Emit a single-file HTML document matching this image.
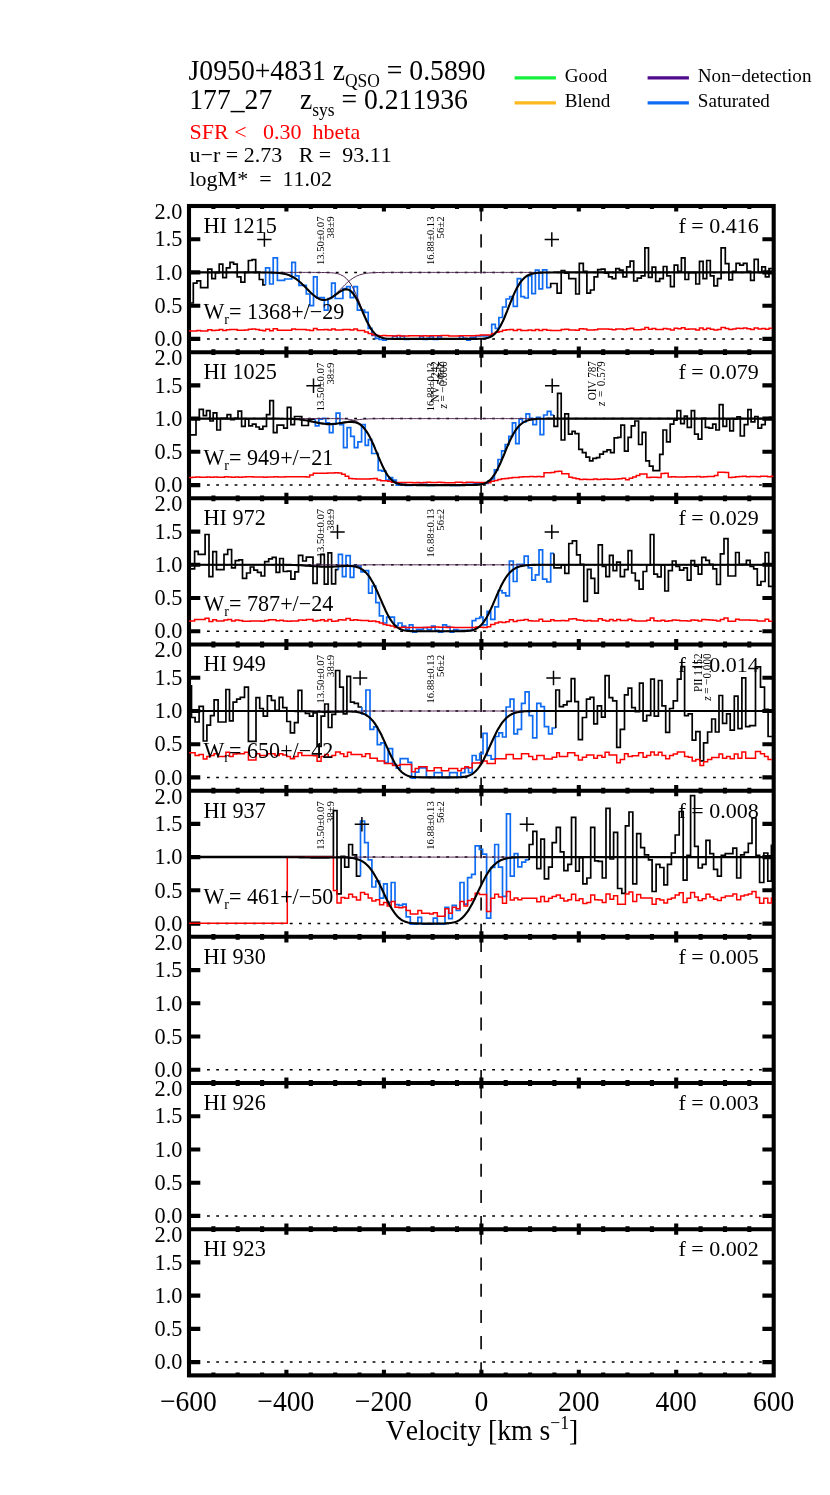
<!DOCTYPE html>
<html><head><meta charset="utf-8"><title>J0950+4831 HI</title>
<style>html,body{margin:0;padding:0;background:#fff}body{width:830px;height:1495px;overflow:hidden;font-family:"Liberation Serif",serif}svg{display:block;will-change:transform}</style>
</head><body>
<svg width="830" height="1495" viewBox="0 0 830 1495">
<rect width="830" height="1495" fill="#fff"/>
<defs><clipPath id="cp"><rect x="189" y="206" width="584.7" height="1169.4"/></clipPath></defs>
<path d="M207 338.9H773.7" stroke="#000" stroke-width="1.5" stroke-dasharray="2.8 6.4" fill="none"/>
<path d="M207 272.4H773.7" stroke="#000" stroke-width="1.5" stroke-dasharray="2.8 6.4" fill="none"/>
<path d="M481.1 352.2V206" stroke="#000" stroke-width="1.6" stroke-dasharray="13.1 13.1" fill="none"/>
<path d="M207 485.1H773.7" stroke="#000" stroke-width="1.5" stroke-dasharray="2.8 6.4" fill="none"/>
<path d="M207 418.6H773.7" stroke="#000" stroke-width="1.5" stroke-dasharray="2.8 6.4" fill="none"/>
<path d="M481.1 498.3V352.2" stroke="#000" stroke-width="1.6" stroke-dasharray="13.1 13.1" fill="none"/>
<path d="M207 631.2H773.7" stroke="#000" stroke-width="1.5" stroke-dasharray="2.8 6.4" fill="none"/>
<path d="M207 564.8H773.7" stroke="#000" stroke-width="1.5" stroke-dasharray="2.8 6.4" fill="none"/>
<path d="M481.1 644.5V498.3" stroke="#000" stroke-width="1.6" stroke-dasharray="13.1 13.1" fill="none"/>
<path d="M207 777.4H773.7" stroke="#000" stroke-width="1.5" stroke-dasharray="2.8 6.4" fill="none"/>
<path d="M207 711H773.7" stroke="#000" stroke-width="1.5" stroke-dasharray="2.8 6.4" fill="none"/>
<path d="M481.1 790.7V644.5" stroke="#000" stroke-width="1.6" stroke-dasharray="13.1 13.1" fill="none"/>
<path d="M207 923.6H773.7" stroke="#000" stroke-width="1.5" stroke-dasharray="2.8 6.4" fill="none"/>
<path d="M207 857.1H773.7" stroke="#000" stroke-width="1.5" stroke-dasharray="2.8 6.4" fill="none"/>
<path d="M481.1 936.8V790.7" stroke="#000" stroke-width="1.6" stroke-dasharray="13.1 13.1" fill="none"/>
<path d="M207 1069.7H773.7" stroke="#000" stroke-width="1.5" stroke-dasharray="2.8 6.4" fill="none"/>
<path d="M481.1 1083V936.8" stroke="#000" stroke-width="1.6" stroke-dasharray="13.1 13.1" fill="none"/>
<path d="M207 1215.9H773.7" stroke="#000" stroke-width="1.5" stroke-dasharray="2.8 6.4" fill="none"/>
<path d="M481.1 1229.2V1083" stroke="#000" stroke-width="1.6" stroke-dasharray="13.1 13.1" fill="none"/>
<path d="M207 1362.1H773.7" stroke="#000" stroke-width="1.5" stroke-dasharray="2.8 6.4" fill="none"/>
<path d="M481.1 1375.4V1229.2" stroke="#000" stroke-width="1.6" stroke-dasharray="13.1 13.1" fill="none"/>
<g stroke="#000" stroke-width="4.1" fill="none">
<rect x="189" y="206" width="584.7" height="1169.4"/>
<path d="M189 352.2H773.7"/>
<path d="M189 498.3H773.7"/>
<path d="M189 644.5H773.7"/>
<path d="M189 790.7H773.7"/>
<path d="M189 936.8H773.7"/>
<path d="M189 1083H773.7"/>
<path d="M189 1229.2H773.7"/>
<path d="M189 338.9h11.3M773.7 338.9h-11.3M189 305.7h11.3M773.7 305.7h-11.3M189 272.4h11.3M773.7 272.4h-11.3M189 239.2h11.3M773.7 239.2h-11.3M189 485.1h11.3M773.7 485.1h-11.3M189 451.8h11.3M773.7 451.8h-11.3M189 418.6h11.3M773.7 418.6h-11.3M189 385.4h11.3M773.7 385.4h-11.3M189 631.2h11.3M773.7 631.2h-11.3M189 598h11.3M773.7 598h-11.3M189 564.8h11.3M773.7 564.8h-11.3M189 531.6h11.3M773.7 531.6h-11.3M189 777.4h11.3M773.7 777.4h-11.3M189 744.2h11.3M773.7 744.2h-11.3M189 711h11.3M773.7 711h-11.3M189 677.7h11.3M773.7 677.7h-11.3M189 923.6h11.3M773.7 923.6h-11.3M189 890.3h11.3M773.7 890.3h-11.3M189 857.1h11.3M773.7 857.1h-11.3M189 823.9h11.3M773.7 823.9h-11.3M189 1069.7h11.3M773.7 1069.7h-11.3M189 1036.5h11.3M773.7 1036.5h-11.3M189 1003.3h11.3M773.7 1003.3h-11.3M189 970.1h11.3M773.7 970.1h-11.3M189 1215.9h11.3M773.7 1215.9h-11.3M189 1182.7h11.3M773.7 1182.7h-11.3M189 1149.5h11.3M773.7 1149.5h-11.3M189 1116.2h11.3M773.7 1116.2h-11.3M189 1362.1h11.3M773.7 1362.1h-11.3M189 1328.9h11.3M773.7 1328.9h-11.3M189 1295.6h11.3M773.7 1295.6h-11.3M189 1262.4h11.3M773.7 1262.4h-11.3"/>
<path d="M213.4 206V208.9M237.7 206V208.9M262.1 206V208.9M286.4 206V211.6M310.8 206V208.9M335.2 206V208.9M359.5 206V208.9M383.9 206V211.6M408.3 206V208.9M432.6 206V208.9M457 206V208.9M481.4 206V211.6M505.7 206V208.9M530.1 206V208.9M554.4 206V208.9M578.8 206V211.6M603.2 206V208.9M627.5 206V208.9M651.9 206V208.9M676.2 206V211.6M700.6 206V208.9M725 206V208.9M749.3 206V208.9M213.4 349.3V355.1M237.7 349.3V355.1M262.1 349.3V355.1M286.4 346.6V357.8M310.8 349.3V355.1M335.2 349.3V355.1M359.5 349.3V355.1M383.9 346.6V357.8M408.3 349.3V355.1M432.6 349.3V355.1M457 349.3V355.1M481.4 346.6V357.8M505.7 349.3V355.1M530.1 349.3V355.1M554.4 349.3V355.1M578.8 346.6V357.8M603.2 349.3V355.1M627.5 349.3V355.1M651.9 349.3V355.1M676.2 346.6V357.8M700.6 349.3V355.1M725 349.3V355.1M749.3 349.3V355.1M213.4 495.4V501.2M237.7 495.4V501.2M262.1 495.4V501.2M286.4 492.7V503.9M310.8 495.4V501.2M335.2 495.4V501.2M359.5 495.4V501.2M383.9 492.7V503.9M408.3 495.4V501.2M432.6 495.4V501.2M457 495.4V501.2M481.4 492.7V503.9M505.7 495.4V501.2M530.1 495.4V501.2M554.4 495.4V501.2M578.8 492.7V503.9M603.2 495.4V501.2M627.5 495.4V501.2M651.9 495.4V501.2M676.2 492.7V503.9M700.6 495.4V501.2M725 495.4V501.2M749.3 495.4V501.2M213.4 641.6V647.4M237.7 641.6V647.4M262.1 641.6V647.4M286.4 638.9V650.1M310.8 641.6V647.4M335.2 641.6V647.4M359.5 641.6V647.4M383.9 638.9V650.1M408.3 641.6V647.4M432.6 641.6V647.4M457 641.6V647.4M481.4 638.9V650.1M505.7 641.6V647.4M530.1 641.6V647.4M554.4 641.6V647.4M578.8 638.9V650.1M603.2 641.6V647.4M627.5 641.6V647.4M651.9 641.6V647.4M676.2 638.9V650.1M700.6 641.6V647.4M725 641.6V647.4M749.3 641.6V647.4M213.4 787.8V793.6M237.7 787.8V793.6M262.1 787.8V793.6M286.4 785.1V796.3M310.8 787.8V793.6M335.2 787.8V793.6M359.5 787.8V793.6M383.9 785.1V796.3M408.3 787.8V793.6M432.6 787.8V793.6M457 787.8V793.6M481.4 785.1V796.3M505.7 787.8V793.6M530.1 787.8V793.6M554.4 787.8V793.6M578.8 785.1V796.3M603.2 787.8V793.6M627.5 787.8V793.6M651.9 787.8V793.6M676.2 785.1V796.3M700.6 787.8V793.6M725 787.8V793.6M749.3 787.8V793.6M213.4 933.9V939.7M237.7 933.9V939.7M262.1 933.9V939.7M286.4 931.2V942.4M310.8 933.9V939.7M335.2 933.9V939.7M359.5 933.9V939.7M383.9 931.2V942.4M408.3 933.9V939.7M432.6 933.9V939.7M457 933.9V939.7M481.4 931.2V942.4M505.7 933.9V939.7M530.1 933.9V939.7M554.4 933.9V939.7M578.8 931.2V942.4M603.2 933.9V939.7M627.5 933.9V939.7M651.9 933.9V939.7M676.2 931.2V942.4M700.6 933.9V939.7M725 933.9V939.7M749.3 933.9V939.7M213.4 1080.1V1085.9M237.7 1080.1V1085.9M262.1 1080.1V1085.9M286.4 1077.4V1088.6M310.8 1080.1V1085.9M335.2 1080.1V1085.9M359.5 1080.1V1085.9M383.9 1077.4V1088.6M408.3 1080.1V1085.9M432.6 1080.1V1085.9M457 1080.1V1085.9M481.4 1077.4V1088.6M505.7 1080.1V1085.9M530.1 1080.1V1085.9M554.4 1080.1V1085.9M578.8 1077.4V1088.6M603.2 1080.1V1085.9M627.5 1080.1V1085.9M651.9 1080.1V1085.9M676.2 1077.4V1088.6M700.6 1080.1V1085.9M725 1080.1V1085.9M749.3 1080.1V1085.9M213.4 1226.3V1232.1M237.7 1226.3V1232.1M262.1 1226.3V1232.1M286.4 1223.6V1234.8M310.8 1226.3V1232.1M335.2 1226.3V1232.1M359.5 1226.3V1232.1M383.9 1223.6V1234.8M408.3 1226.3V1232.1M432.6 1226.3V1232.1M457 1226.3V1232.1M481.4 1223.6V1234.8M505.7 1226.3V1232.1M530.1 1226.3V1232.1M554.4 1226.3V1232.1M578.8 1223.6V1234.8M603.2 1226.3V1232.1M627.5 1226.3V1232.1M651.9 1226.3V1232.1M676.2 1223.6V1234.8M700.6 1226.3V1232.1M725 1226.3V1232.1M749.3 1226.3V1232.1M213.4 1372.5V1375.4M237.7 1372.5V1375.4M262.1 1372.5V1375.4M286.4 1369.8V1375.4M310.8 1372.5V1375.4M335.2 1372.5V1375.4M359.5 1372.5V1375.4M383.9 1369.8V1375.4M408.3 1372.5V1375.4M432.6 1372.5V1375.4M457 1372.5V1375.4M481.4 1369.8V1375.4M505.7 1372.5V1375.4M530.1 1372.5V1375.4M554.4 1372.5V1375.4M578.8 1369.8V1375.4M603.2 1372.5V1375.4M627.5 1372.5V1375.4M651.9 1372.5V1375.4M676.2 1369.8V1375.4M700.6 1372.5V1375.4M725 1372.5V1375.4M749.3 1372.5V1375.4"/>
</g>
<g clip-path="url(#cp)" fill="none" stroke-linejoin="miter">
<path d="M190.5 303H193.3V283.1H196.9V280.8H200.6V287.7H207.8V269.2H211.8V278.6H215.4V272.7H219.2V264.2H222.8V277.7H226.4V267.8H230V262.3H233.6V264.2H237.2V276.8H240.9V282.2H244.8V272.3H248.4V260.5H252.1V259.6H255.7V272.3H259.3V279.5H262.9V284.9H265.6" stroke="#000" stroke-width="1.7"/>
<path d="M265.6 284.9V267.8H269.6V284H273.2V257.8H277.4V280.4H284.6V279H291.8V262.3H295.4V275.9H299V285.3H306.3V294H309.9V305.7H313.5V276.8H317.1V297.6H324.3V310.2H328V298.5H331.6V283.1H335.2V298.5H339.3V298.5H342.9V288.6H346.6V286.7H350.2V297.6H353.8V286.7H357.4V310.2H364.6V312.4H368.2V328.3H371.9V335.5H375.5V338.3H379.1V339.5H382.7V340.1H386.3V338.8H392.6V336.1H397.2V339.2H400.2V336.1H404.4V339.5H408.9V338.8H419.7V336.4H423.4V339.5H427V338.3H429.7V336.4H433.3V339.5H437.8V336.6H441.4V339.2H448.7V338.8H459.5V336.1H463.1V338.3H466.7V340.1H470.3V337.3H475.8V335.9H480.3V335.9H491.7V324.3H495.3V328.3H498.9V317.5H502.5V307H506.1V299H509.7V296.7H513.3V306.3H517.3V278.6H520.9V296.7H524.5V298H528.2V275.9H531.8V293.6H535.4V270.1H539V288.9H542.6V269.8H546.8V287.7H550.7" stroke="#0f6cf2" stroke-width="1.7"/>
<path d="M550.7 287.7V283.5H557.1V293.1H561.2V270.5H564.8V273.2H568.8V278.6H575.7V294H579.3V263.3H583.3V271.4H586.9V293.1H590.5V290H594.1V276.8H597.7V269.6H601.3V269.2H605V273.2H608.6V276.8H612.2V278.6H615.8V268.7H619.4V270.1H623V276.8H626.7V266.9H630.1V261.1H633.7V281H637.3V278.1H641.3V275.9H644.9V247.9H648.5V277.3H652.1V267.2H655.7V281.3H659.7V278.6H663.3V266.5H666.9V275.9H670.5V286.7H674.2V265.1H677.8V271.4H681.4V257.8H685V279.5H688.6V272.7H692.2V272.7H695.8V284H699.5V261.4H703.1V278.6H706.7V260.5H710.3V275.9H713.9V285.8H717.5V278.6H721.1V247.9H725.3V263.6H728.9V279.9H732.5V271.4H736.1V263.3H739.8V265.1H743.4V263.3H747V271.4H750.6V280.4H754.2V259.3H758.2V272.3H761.8V266.9H765.4V276.8H769V268.7H771.9" stroke="#000" stroke-width="1.7"/>
<path d="M189 330.9H193.3V330.9H196.9V330.4H200.6V331H207.8V329.8H211.8V330.4H215.4V330.2H219.2V329.5H222.8V330.5H226.4V329.7H230V329.5H233.6V329.6H237.2V330.2H240.9V330.3H244.8V330.1H248.4V329.3H252.1V329H255.7V329.6H259.3V330.2H262.9V330.7H265.6V329.3H269.6V330.8H273.2V328.7H277.4V330.3H284.6V330.2H291.8V329H295.4V329.6H299V329.6H306.3V330.1H309.9V330.4H313.5V328.4H317.1V329.7H324.3V329.6H328V329.9H331.6V329H335.2V330.1H339.3V330H342.9V329.6H346.6V329.5H350.2V329.9H353.8V329H357.4V330.4H364.6V331.9H368.2V333.4H371.9V334.7H375.5V335.4H379.1V335.8H382.7V335.6H386.3V335.7H392.6V335.9H397.2V335.6H400.2V336H404.4V335.9H408.9V335.7H419.7V336H423.4V335.8H427V336.1H429.7V335.7H433.3V335.7H437.8V335.8H441.4V335.6H448.7V335.9H459.5V335.7H463.1V335.8H466.7V335.8H470.3V335.8H475.8V335.6H480.3V335.1H491.7V333.6H495.3V332.2H498.9V331.5H502.5V330.2H506.1V329.8H509.7V329.6H513.3V330.5H517.3V329.6H520.9V330.6H524.5V330.4H528.2V330.1H531.8V330.5H535.4V329.6H539V330.6H542.6V329.6H546.8V330.2H550.7V330.4H557.1V330.4H561.2V329.4H564.8V329.3H568.8V330H575.7V330.2H579.3V328.7H583.3V329.1H586.9V329.9H590.5V329.9H594.1V329.7H597.7V329.1H601.3V329.1H605V329.1H608.6V329.2H612.2V329.8H615.8V329.1H619.4V329.1H623V329.6H626.7V328.7H630.1V328.3H633.7V329.8H637.3V329.7H641.3V329.3H644.9V327.5H648.5V329.3H652.1V328.4H655.7V329.5H659.7V329.4H663.3V328.5H666.9V329.1H670.5V330H674.2V328.3H677.8V328.8H681.4V327.8H685V329.3H688.6V329H692.2V329H695.8V329.9H699.5V328.1H703.1V329.6H706.7V328.3H710.3V329.3H713.9V329.9H717.5V329.4H721.1V327.5H725.3V328.5H728.9V329.6H732.5V329H736.1V328.3H739.8V328.6H743.4V328H747V328.7H750.6V329.6H754.2V328.1H758.2V328.9H761.8V328.5H765.4V329.3H769V328.3H772.3" stroke="#ff0000" stroke-width="1.5"/>
<path d="M190 272.4L191.4 272.4L192.9 272.4L194.4 272.4L195.8 272.4L197.3 272.4L198.7 272.4L200.2 272.4L201.7 272.4L203.1 272.4L204.6 272.4L206.1 272.4L207.5 272.4L209 272.4L210.4 272.4L211.9 272.4L213.4 272.4L214.8 272.4L216.3 272.4L217.7 272.4L219.2 272.4L220.7 272.4L222.1 272.4L223.6 272.4L225.1 272.4L226.5 272.4L228 272.4L229.4 272.4L230.9 272.4L232.4 272.4L233.8 272.4L235.3 272.4L236.8 272.4L238.2 272.4L239.7 272.4L241.1 272.4L242.6 272.4L244.1 272.4L245.5 272.4L247 272.4L248.4 272.4L249.9 272.4L251.4 272.4L252.8 272.4L254.3 272.4L255.8 272.4L257.2 272.4L258.7 272.4L260.1 272.4L261.6 272.5L263.1 272.5L264.5 272.5L266 272.5L267.4 272.5L268.9 272.5L270.4 272.5L271.8 272.6L273.3 272.6L274.8 272.7L276.2 272.8L277.7 272.9L279.1 273L280.6 273.2L282.1 273.4L283.5 273.6L285 274L286.4 274.3L287.9 274.8L289.4 275.3L290.8 276L292.3 276.7L293.8 277.5L295.2 278.4L296.7 279.4L298.1 280.5L299.6 281.8L301.1 283L302.5 284.4L304 285.8L305.5 287.3L306.9 288.8L308.4 290.3L309.8 291.7L311.3 293.2L312.8 294.5L314.2 295.7L315.7 296.8L317.1 297.8L318.6 298.6L320.1 299.2L321.5 299.6L323 299.9L324.5 299.9L325.9 299.7L327.4 299.4L328.8 298.8L330.3 298L331.8 297.1L333.2 296L334.7 294.8L336.1 293.5L337.6 292.1L339.1 290.7L340.5 289.2L342 287.7L343.5 286.2L344.9 284.8L346.4 283.4L347.8 282.1L349.3 280.9L350.8 279.7L352.2 278.7L353.7 277.7L355.2 276.9L356.6 276.1L358.1 275.5L359.5 274.9L361 274.5L362.5 274.1L363.9 273.7L365.4 273.5L366.8 273.2L368.3 273.1L369.8 272.9L371.2 272.8L372.7 272.7L374.2 272.6L375.6 272.6L377.1 272.5L378.5 272.5L380 272.5L381.5 272.5L382.9 272.5L384.4 272.5L385.8 272.5L387.3 272.4L388.8 272.4L390.2 272.4L391.7 272.4L393.2 272.4L394.6 272.4L396.1 272.4L397.5 272.4L399 272.4L400.5 272.4L401.9 272.4L403.4 272.4L404.9 272.4L406.3 272.4L407.8 272.4L409.2 272.4L410.7 272.4L412.2 272.4L413.6 272.4L415.1 272.4L416.5 272.4L418 272.4L419.5 272.4L420.9 272.4L422.4 272.4L423.9 272.4L425.3 272.4L426.8 272.4L428.2 272.4L429.7 272.4L431.2 272.4L432.6 272.4L434.1 272.4L435.5 272.4L437 272.4L438.5 272.4L439.9 272.4L441.4 272.4L442.9 272.4L444.3 272.4L445.8 272.4L447.2 272.4L448.7 272.4L450.2 272.4L451.6 272.4L453.1 272.4L454.6 272.4L456 272.4L457.5 272.4L458.9 272.4L460.4 272.4L461.9 272.4L463.3 272.4L464.8 272.4L466.2 272.4L467.7 272.4L469.2 272.4L470.6 272.4L472.1 272.4L473.6 272.4L475 272.4L476.5 272.4L477.9 272.4L479.4 272.4L480.9 272.4L482.3 272.4L483.8 272.4L485.2 272.4L486.7 272.4L488.2 272.4L489.6 272.4L491.1 272.4L492.6 272.4L494 272.4L495.5 272.4L496.9 272.4L498.4 272.4L499.9 272.4L501.3 272.4L502.8 272.4L504.3 272.4L505.7 272.4L507.2 272.4L508.6 272.4L510.1 272.4L511.6 272.4L513 272.4L514.5 272.4L515.9 272.4L517.4 272.4L518.9 272.4L520.3 272.4L521.8 272.4L523.3 272.4L524.7 272.4L526.2 272.4L527.6 272.4L529.1 272.4L530.6 272.4L532 272.4L533.5 272.4L534.9 272.4L536.4 272.4L537.9 272.4L539.3 272.4L540.8 272.4L542.3 272.4L543.7 272.4L545.2 272.4L546.6 272.4L548.1 272.4L549.6 272.4L551 272.4L552.5 272.4L554 272.4L555.4 272.4L556.9 272.4L558.3 272.4L559.8 272.4L561.3 272.4L562.7 272.4L564.2 272.4L565.6 272.4L567.1 272.4L568.6 272.4L570 272.4L571.5 272.4L573 272.4L574.4 272.4L575.9 272.4L577.3 272.4L578.8 272.4L580.3 272.4L581.7 272.4L583.2 272.4L584.6 272.4L586.1 272.4L587.6 272.4L589 272.4L590.5 272.4L592 272.4L593.4 272.4L594.9 272.4L596.3 272.4L597.8 272.4L599.3 272.4L600.7 272.4L602.2 272.4L603.6 272.4L605.1 272.4L606.6 272.4L608 272.4L609.5 272.4L611 272.4L612.4 272.4L613.9 272.4L615.3 272.4L616.8 272.4L618.3 272.4L619.7 272.4L621.2 272.4L622.7 272.4L624.1 272.4L625.6 272.4L627 272.4L628.5 272.4L630 272.4L631.4 272.4L632.9 272.4L634.3 272.4L635.8 272.4L637.3 272.4L638.7 272.4L640.2 272.4L641.7 272.4L643.1 272.4L644.6 272.4L646 272.4L647.5 272.4L649 272.4L650.4 272.4L651.9 272.4L653.3 272.4L654.8 272.4L656.3 272.4L657.7 272.4L659.2 272.4L660.7 272.4L662.1 272.4L663.6 272.4L665 272.4L666.5 272.4L668 272.4L669.4 272.4L670.9 272.4L672.4 272.4L673.8 272.4L675.3 272.4L676.7 272.4L678.2 272.4L679.7 272.4L681.1 272.4L682.6 272.4L684 272.4L685.5 272.4L687 272.4L688.4 272.4L689.9 272.4L691.4 272.4L692.8 272.4L694.3 272.4L695.7 272.4L697.2 272.4L698.7 272.4L700.1 272.4L701.6 272.4L703 272.4L704.5 272.4L706 272.4L707.4 272.4L708.9 272.4L710.4 272.4L711.8 272.4L713.3 272.4L714.7 272.4L716.2 272.4L717.7 272.4L719.1 272.4L720.6 272.4L722.1 272.4L723.5 272.4L725 272.4L726.4 272.4L727.9 272.4L729.4 272.4L730.8 272.4L732.3 272.4L733.7 272.4L735.2 272.4L736.7 272.4L738.1 272.4L739.6 272.4L741.1 272.4L742.5 272.4L744 272.4L745.4 272.4L746.9 272.4L748.4 272.4L749.8 272.4L751.3 272.4L752.7 272.4L754.2 272.4L755.7 272.4L757.1 272.4L758.6 272.4L760.1 272.4L761.5 272.4L763 272.4L764.4 272.4L765.9 272.4L767.4 272.4L768.8 272.4L770.3 272.4L771.8 272.4L773.2 272.4" stroke="#4e2350" stroke-width="1"/>
<path d="M190 272.4L191.4 272.4L192.9 272.4L194.4 272.4L195.8 272.4L197.3 272.4L198.7 272.4L200.2 272.4L201.7 272.4L203.1 272.4L204.6 272.4L206.1 272.4L207.5 272.4L209 272.4L210.4 272.4L211.9 272.4L213.4 272.4L214.8 272.4L216.3 272.4L217.7 272.4L219.2 272.4L220.7 272.4L222.1 272.4L223.6 272.4L225.1 272.4L226.5 272.4L228 272.4L229.4 272.4L230.9 272.4L232.4 272.4L233.8 272.4L235.3 272.4L236.8 272.4L238.2 272.4L239.7 272.4L241.1 272.4L242.6 272.4L244.1 272.4L245.5 272.4L247 272.4L248.4 272.4L249.9 272.4L251.4 272.4L252.8 272.4L254.3 272.4L255.8 272.4L257.2 272.4L258.7 272.4L260.1 272.4L261.6 272.4L263.1 272.4L264.5 272.4L266 272.4L267.4 272.4L268.9 272.4L270.4 272.4L271.8 272.4L273.3 272.4L274.8 272.4L276.2 272.4L277.7 272.4L279.1 272.4L280.6 272.4L282.1 272.4L283.5 272.4L285 272.4L286.4 272.4L287.9 272.4L289.4 272.4L290.8 272.4L292.3 272.4L293.8 272.4L295.2 272.4L296.7 272.4L298.1 272.4L299.6 272.4L301.1 272.4L302.5 272.4L304 272.4L305.5 272.4L306.9 272.4L308.4 272.4L309.8 272.4L311.3 272.4L312.8 272.4L314.2 272.4L315.7 272.4L317.1 272.5L318.6 272.5L320.1 272.5L321.5 272.5L323 272.5L324.5 272.5L325.9 272.5L327.4 272.6L328.8 272.6L330.3 272.7L331.8 272.8L333.2 272.9L334.7 273.1L336.1 273.4L337.6 273.7L339.1 274.1L340.5 274.7L342 275.4L343.5 276.2L344.9 277.3L346.4 278.6L347.8 280.1L349.3 282L350.8 284.1L352.2 286.6L353.7 289.3L355.2 292.3L356.6 295.6L358.1 299.1L359.5 302.7L361 306.4L362.5 310.1L363.9 313.8L365.4 317.3L366.8 320.6L368.3 323.7L369.8 326.5L371.2 328.9L372.7 331L374.2 332.8L375.6 334.3L377.1 335.4L378.5 336.4L380 337.1L381.5 337.6L382.9 338L384.4 338.3L385.8 338.5L387.3 338.7L388.8 338.7L390.2 338.8L391.7 338.8L393.2 338.9L394.6 338.9L396.1 338.9L397.5 338.9L399 338.9L400.5 338.9L401.9 338.9L403.4 338.9L404.9 338.9L406.3 338.9L407.8 338.9L409.2 338.9L410.7 338.9L412.2 338.9L413.6 338.9L415.1 338.9L416.5 338.9L418 338.9L419.5 338.9L420.9 338.9L422.4 338.9L423.9 338.9L425.3 338.9L426.8 338.9L428.2 338.9L429.7 338.9L431.2 338.9L432.6 338.9L434.1 338.9L435.5 338.9L437 338.9L438.5 338.9L439.9 338.9L441.4 338.9L442.9 338.9L444.3 338.9L445.8 338.9L447.2 338.9L448.7 338.9L450.2 338.9L451.6 338.9L453.1 338.9L454.6 338.9L456 338.9L457.5 338.9L458.9 338.9L460.4 338.9L461.9 338.9L463.3 338.9L464.8 338.9L466.2 338.9L467.7 338.9L469.2 338.9L470.6 338.9L472.1 338.9L473.6 338.9L475 338.9L476.5 338.9L477.9 338.8L479.4 338.8L480.9 338.8L482.3 338.7L483.8 338.5L485.2 338.4L486.7 338.1L488.2 337.7L489.6 337.2L491.1 336.5L492.6 335.6L494 334.5L495.5 333.1L496.9 331.4L498.4 329.3L499.9 327L501.3 324.3L502.8 321.3L504.3 318L505.7 314.5L507.2 310.9L508.6 307.2L510.1 303.4L511.6 299.8L513 296.3L514.5 292.9L515.9 289.9L517.4 287.1L518.9 284.6L520.3 282.4L521.8 280.5L523.3 278.9L524.7 277.5L526.2 276.4L527.6 275.5L529.1 274.8L530.6 274.2L532 273.8L533.5 273.4L534.9 273.2L536.4 273L537.9 272.8L539.3 272.7L540.8 272.6L542.3 272.6L543.7 272.5L545.2 272.5L546.6 272.5L548.1 272.5L549.6 272.5L551 272.5L552.5 272.5L554 272.4L555.4 272.4L556.9 272.4L558.3 272.4L559.8 272.4L561.3 272.4L562.7 272.4L564.2 272.4L565.6 272.4L567.1 272.4L568.6 272.4L570 272.4L571.5 272.4L573 272.4L574.4 272.4L575.9 272.4L577.3 272.4L578.8 272.4L580.3 272.4L581.7 272.4L583.2 272.4L584.6 272.4L586.1 272.4L587.6 272.4L589 272.4L590.5 272.4L592 272.4L593.4 272.4L594.9 272.4L596.3 272.4L597.8 272.4L599.3 272.4L600.7 272.4L602.2 272.4L603.6 272.4L605.1 272.4L606.6 272.4L608 272.4L609.5 272.4L611 272.4L612.4 272.4L613.9 272.4L615.3 272.4L616.8 272.4L618.3 272.4L619.7 272.4L621.2 272.4L622.7 272.4L624.1 272.4L625.6 272.4L627 272.4L628.5 272.4L630 272.4L631.4 272.4L632.9 272.4L634.3 272.4L635.8 272.4L637.3 272.4L638.7 272.4L640.2 272.4L641.7 272.4L643.1 272.4L644.6 272.4L646 272.4L647.5 272.4L649 272.4L650.4 272.4L651.9 272.4L653.3 272.4L654.8 272.4L656.3 272.4L657.7 272.4L659.2 272.4L660.7 272.4L662.1 272.4L663.6 272.4L665 272.4L666.5 272.4L668 272.4L669.4 272.4L670.9 272.4L672.4 272.4L673.8 272.4L675.3 272.4L676.7 272.4L678.2 272.4L679.7 272.4L681.1 272.4L682.6 272.4L684 272.4L685.5 272.4L687 272.4L688.4 272.4L689.9 272.4L691.4 272.4L692.8 272.4L694.3 272.4L695.7 272.4L697.2 272.4L698.7 272.4L700.1 272.4L701.6 272.4L703 272.4L704.5 272.4L706 272.4L707.4 272.4L708.9 272.4L710.4 272.4L711.8 272.4L713.3 272.4L714.7 272.4L716.2 272.4L717.7 272.4L719.1 272.4L720.6 272.4L722.1 272.4L723.5 272.4L725 272.4L726.4 272.4L727.9 272.4L729.4 272.4L730.8 272.4L732.3 272.4L733.7 272.4L735.2 272.4L736.7 272.4L738.1 272.4L739.6 272.4L741.1 272.4L742.5 272.4L744 272.4L745.4 272.4L746.9 272.4L748.4 272.4L749.8 272.4L751.3 272.4L752.7 272.4L754.2 272.4L755.7 272.4L757.1 272.4L758.6 272.4L760.1 272.4L761.5 272.4L763 272.4L764.4 272.4L765.9 272.4L767.4 272.4L768.8 272.4L770.3 272.4L771.8 272.4L773.2 272.4" stroke="#4e2350" stroke-width="1"/>
<path d="M190 272.4L191.4 272.4L192.9 272.4L194.4 272.4L195.8 272.4L197.3 272.4L198.7 272.4L200.2 272.4L201.7 272.4L203.1 272.4L204.6 272.4L206.1 272.4L207.5 272.4L209 272.4L210.4 272.4L211.9 272.4L213.4 272.4L214.8 272.4L216.3 272.4L217.7 272.4L219.2 272.4L220.7 272.4L222.1 272.4L223.6 272.4L225.1 272.4L226.5 272.4L228 272.4L229.4 272.4L230.9 272.4L232.4 272.4L233.8 272.4L235.3 272.4L236.8 272.4L238.2 272.4L239.7 272.4L241.1 272.4L242.6 272.4L244.1 272.4L245.5 272.4L247 272.4L248.4 272.4L249.9 272.4L251.4 272.4L252.8 272.4L254.3 272.4L255.8 272.4L257.2 272.4L258.7 272.4L260.1 272.4L261.6 272.5L263.1 272.5L264.5 272.5L266 272.5L267.4 272.5L268.9 272.5L270.4 272.5L271.8 272.6L273.3 272.6L274.8 272.7L276.2 272.8L277.7 272.9L279.1 273L280.6 273.2L282.1 273.4L283.5 273.6L285 274L286.4 274.3L287.9 274.8L289.4 275.3L290.8 276L292.3 276.7L293.8 277.5L295.2 278.4L296.7 279.4L298.1 280.5L299.6 281.8L301.1 283L302.5 284.4L304 285.8L305.5 287.3L306.9 288.8L308.4 290.3L309.8 291.8L311.3 293.2L312.8 294.5L314.2 295.7L315.7 296.8L317.1 297.8L318.6 298.6L320.1 299.2L321.5 299.7L323 299.9L324.5 300L325.9 299.8L327.4 299.5L328.8 298.9L330.3 298.2L331.8 297.4L333.2 296.5L334.7 295.4L336.1 294.4L337.6 293.3L339.1 292.2L340.5 291.3L342 290.5L343.5 289.8L344.9 289.4L346.4 289.3L347.8 289.5L349.3 290.1L350.8 291.1L352.2 292.5L353.7 294.3L355.2 296.4L356.6 299L358.1 301.8L359.5 304.9L361 308.1L362.5 311.5L363.9 314.8L365.4 318.1L366.8 321.2L368.3 324.1L369.8 326.8L371.2 329.1L372.7 331.2L374.2 332.9L375.6 334.3L377.1 335.5L378.5 336.4L380 337.1L381.5 337.6L382.9 338L384.4 338.3L385.8 338.5L387.3 338.7L388.8 338.7L390.2 338.8L391.7 338.8L393.2 338.9L394.6 338.9L396.1 338.9L397.5 338.9L399 338.9L400.5 338.9L401.9 338.9L403.4 338.9L404.9 338.9L406.3 338.9L407.8 338.9L409.2 338.9L410.7 338.9L412.2 338.9L413.6 338.9L415.1 338.9L416.5 338.9L418 338.9L419.5 338.9L420.9 338.9L422.4 338.9L423.9 338.9L425.3 338.9L426.8 338.9L428.2 338.9L429.7 338.9L431.2 338.9L432.6 338.9L434.1 338.9L435.5 338.9L437 338.9L438.5 338.9L439.9 338.9L441.4 338.9L442.9 338.9L444.3 338.9L445.8 338.9L447.2 338.9L448.7 338.9L450.2 338.9L451.6 338.9L453.1 338.9L454.6 338.9L456 338.9L457.5 338.9L458.9 338.9L460.4 338.9L461.9 338.9L463.3 338.9L464.8 338.9L466.2 338.9L467.7 338.9L469.2 338.9L470.6 338.9L472.1 338.9L473.6 338.9L475 338.9L476.5 338.9L477.9 338.8L479.4 338.8L480.9 338.8L482.3 338.7L483.8 338.5L485.2 338.4L486.7 338.1L488.2 337.7L489.6 337.2L491.1 336.5L492.6 335.6L494 334.5L495.5 333.1L496.9 331.4L498.4 329.3L499.9 327L501.3 324.3L502.8 321.3L504.3 318L505.7 314.5L507.2 310.9L508.6 307.2L510.1 303.4L511.6 299.8L513 296.3L514.5 292.9L515.9 289.9L517.4 287.1L518.9 284.6L520.3 282.4L521.8 280.5L523.3 278.9L524.7 277.5L526.2 276.4L527.6 275.5L529.1 274.8L530.6 274.2L532 273.8L533.5 273.4L534.9 273.2L536.4 273L537.9 272.8L539.3 272.7L540.8 272.6L542.3 272.6L543.7 272.5L545.2 272.5L546.6 272.5L548.1 272.5L549.6 272.5L551 272.5L552.5 272.5L554 272.4L555.4 272.4L556.9 272.4L558.3 272.4L559.8 272.4L561.3 272.4L562.7 272.4L564.2 272.4L565.6 272.4L567.1 272.4L568.6 272.4L570 272.4L571.5 272.4L573 272.4L574.4 272.4L575.9 272.4L577.3 272.4L578.8 272.4L580.3 272.4L581.7 272.4L583.2 272.4L584.6 272.4L586.1 272.4L587.6 272.4L589 272.4L590.5 272.4L592 272.4L593.4 272.4L594.9 272.4L596.3 272.4L597.8 272.4L599.3 272.4L600.7 272.4L602.2 272.4L603.6 272.4L605.1 272.4L606.6 272.4L608 272.4L609.5 272.4L611 272.4L612.4 272.4L613.9 272.4L615.3 272.4L616.8 272.4L618.3 272.4L619.7 272.4L621.2 272.4L622.7 272.4L624.1 272.4L625.6 272.4L627 272.4L628.5 272.4L630 272.4L631.4 272.4L632.9 272.4L634.3 272.4L635.8 272.4L637.3 272.4L638.7 272.4L640.2 272.4L641.7 272.4L643.1 272.4L644.6 272.4L646 272.4L647.5 272.4L649 272.4L650.4 272.4L651.9 272.4L653.3 272.4L654.8 272.4L656.3 272.4L657.7 272.4L659.2 272.4L660.7 272.4L662.1 272.4L663.6 272.4L665 272.4L666.5 272.4L668 272.4L669.4 272.4L670.9 272.4L672.4 272.4L673.8 272.4L675.3 272.4L676.7 272.4L678.2 272.4L679.7 272.4L681.1 272.4L682.6 272.4L684 272.4L685.5 272.4L687 272.4L688.4 272.4L689.9 272.4L691.4 272.4L692.8 272.4L694.3 272.4L695.7 272.4L697.2 272.4L698.7 272.4L700.1 272.4L701.6 272.4L703 272.4L704.5 272.4L706 272.4L707.4 272.4L708.9 272.4L710.4 272.4L711.8 272.4L713.3 272.4L714.7 272.4L716.2 272.4L717.7 272.4L719.1 272.4L720.6 272.4L722.1 272.4L723.5 272.4L725 272.4L726.4 272.4L727.9 272.4L729.4 272.4L730.8 272.4L732.3 272.4L733.7 272.4L735.2 272.4L736.7 272.4L738.1 272.4L739.6 272.4L741.1 272.4L742.5 272.4L744 272.4L745.4 272.4L746.9 272.4L748.4 272.4L749.8 272.4L751.3 272.4L752.7 272.4L754.2 272.4L755.7 272.4L757.1 272.4L758.6 272.4L760.1 272.4L761.5 272.4L763 272.4L764.4 272.4L765.9 272.4L767.4 272.4L768.8 272.4L770.3 272.4L771.8 272.4L773.2 272.4" stroke="#000" stroke-width="2.1" stroke-linejoin="round"/>
<path d="M190.5 434.9H196V419.2H199.3V409.3H203.3V415.6H206.5V410.7H210V421H213.2V412.9H216.8V430H220.4V418.3H227.1V414.7H230.7V419.7H234.3V418.3H238V411.1H241.6V426.4H245.2V419.2H248.8V425.9H252.4V424.1H256V427H259.3V429.1H262.9V426.4H266.5V414.7H269.8V400.6H273.4V432.7H277V425.2H283.7V428.2H287.3V407.4H290.9V424.6H294.5V416.5H301.8V425.5H308.4V419.2H315.3" stroke="#000" stroke-width="1.7"/>
<path d="M315.3 419.2V425.9H318.9V419.2H322.5V418.3H325.8V422.8H329.4V432.7H333V423.7H336.1V413.2H339.9V424.6H343.5V447.6H347.1V427.7H350.7V436.4H354.3V447.6H357.9V441.8H361.6V424.6H365.2V445.4H368.4V439.6H371.7V453.5H378.2V470.3H381.8V471.1H385.8V480.1H389V477.6H392.6V480.1H396.3V485.2H399.9V484.3H405.3V485.5H412.5V484.8H417.9V484.3H427V485.5H434.2V484.8H441.4V485.2H450.5V485.5H459.5V484.8H466.7V484.3H474V483.7H480.3V483.3H488V481.2H491.3V478.8H494.4V469.8H498V459.5H501.6V450.8H505.2V444.5H508.8V436.4H512.4V422.8H515.7V443.6H519.1V419.2H522.4V421.9H526V413.8H529.6V418.3H532.9V424.6H536.5V417.4H540.1V434.6H543.7V415H547.3V411.4H550.9V415H554" stroke="#0f6cf2" stroke-width="1.7"/>
<path d="M554 415V426.4H557.6V393.3H561.2V440H564.8V413.8H568.5V434.2H572.1V431.3H575.1V433.7H578.8V449.4H582.4V452.6H586V457.1H589.6V460.8H592.9V458.4H596.5V457.7H599.7V454.1H603.3V451.7H607V449.9H610.6V452.6H614.2V437.8H617.8V437.3H620.9V425.2H624.5V451.2H628.1V437.3H631.3V425.9H634.9V421H638.6V444.5H642.2V432.4H645.8V460.8H649.4V466.2H653V470.7H659.7V454.4H663V430H666.6V441.8H670.2V424.1H673.8V420.1H677V410.7H680.7V423.7H684.3V416.1H687.3V427.3H691.3V410.7H694.6V434.2H698.2V439.1H701.8V418.3H705.4V427.3H709V428.2H712.7V424.1H715.9V430H719.3V404.7H723V426.4H726.6V419.2H729.8V430.9H733.4V419.2H737V416.8H740.3V436H744.3V424.6H747.9V409.6H751.1V421.9H754.8V416.5H758V428.2H761.6V424.6H765.2V417.9H769.6V417.4H771.9" stroke="#000" stroke-width="1.7"/>
<path d="M189 477.6H192.6V477.3H196.1V477.1H199.7V477.3H203.2V477.3H206.8V477.1H210.3V477.2H213.9V476.9H217.4V477.2H221V477.3H224.5V476.8H228.1V477H231.6V477.2H235.2V477H238.7V477.3H242.3V477H245.8V476.8H249.4V476.8H252.9V476.9H256.5V477.1H260V477.1H263.6V477.2H267.1V476.9H270.7V477H274.2V476.8H277.8V477.1H281.3V477.1H284.9V476.8H288.4V476.7H292V476.8H295.5V476.8H299.1V476.8H302.6V476.8H306.2V477.1H309.7V475.1H313.3V473.2H316.8V473.3H320.4V473.3H323.9V473.2H327.5V473.1H331V472.9H334.6V472.7H338.1V473H341.7V474.2H345.2V476.2H348.8V478.5H352.3V478.8H355.9V478.9H359.4V478.9H363V478.9H366.5V478.9H370.1V478.7H373.6V478.5H377.2V480.1H380.7V480.7H384.3V480.8H387.8V481.2H391.4V482.3H394.9V482.6H398.5V482.4H402V482.5H405.6V482.5H409.1V482.6H412.7V482.8H416.2V482.4H419.8V482.7H423.3V482.4H426.9V482.3H430.4V482.6H434V482.6H437.5V482.3H441.1V482.4H444.6V482.7H448.2V482.7H451.7V482.7H455.3V482.3H458.8V482.3H462.4V482.7H465.9V482.3H469.5V482.2H473V482.4H476.6V482.5H480.1V482.4H483.7V482.6H487.2V482.7H490.8V481.2H494.3V480.4H497.9V479.5H501.4V478.8H505V478.6H508.5V478H512.1V477.6H515.6V477.5H519.2V477H522.7V476.7H526.3V476.7H529.8V476.5H533.4V476.7H536.9V476.6H540.5V476.7H544V472.7H547.6V472.8H551.1V472.5H554.7V471.4H558.2V471.2H561.8V473.8H565.3V473.7H568.9V477.3H572.4V478H576V478.7H579.5V479.5H583.1V479.2H586.6V479.4H590.1V479.5H593.7V479H597.2V479.4H600.8V479.2H604.3V479.1H607.9V479.2H611.4V479.3H615V479H618.5V478.7H622.1V478.3H625.6V479.8H629.2V478.2H632.7V477H636.3V475.5H639.8V473.9H643.4V474.1H646.9V477.4H650.5V477.3H654V477.3H657.6V477.6H661.1V473.4H664.7V473.3H668.2V476.9H671.8V476.8H675.3V477H678.9V476.9H682.4V476.9H686V476.7H689.5V476.8H693.1V476.7H696.6V476.6H700.2V477H703.7V476.8H707.3V476.6H710.8V476.6H714.4V475.6H717.9V472.3H721.5V472.2H725V472.6H728.6V477.5H732.1V477.3H735.7V476.7H739.2V476.4H742.8V476.3H746.3V476.7H749.9V476.4H753.4V476.5H757V476.7H760.5V476.3H764.1V476.3H767.6V476.7H771.2V476.3H773.7" stroke="#ff0000" stroke-width="1.5"/>
<path d="M190 418.6L191.4 418.6L192.9 418.6L194.4 418.6L195.8 418.6L197.3 418.6L198.7 418.6L200.2 418.6L201.7 418.6L203.1 418.6L204.6 418.6L206.1 418.6L207.5 418.6L209 418.6L210.4 418.6L211.9 418.6L213.4 418.6L214.8 418.6L216.3 418.6L217.7 418.6L219.2 418.6L220.7 418.6L222.1 418.6L223.6 418.6L225.1 418.6L226.5 418.6L228 418.6L229.4 418.6L230.9 418.6L232.4 418.6L233.8 418.6L235.3 418.6L236.8 418.6L238.2 418.6L239.7 418.6L241.1 418.6L242.6 418.6L244.1 418.6L245.5 418.6L247 418.6L248.4 418.6L249.9 418.6L251.4 418.6L252.8 418.6L254.3 418.6L255.8 418.6L257.2 418.6L258.7 418.6L260.1 418.6L261.6 418.6L263.1 418.6L264.5 418.6L266 418.6L267.4 418.6L268.9 418.6L270.4 418.6L271.8 418.6L273.3 418.6L274.8 418.6L276.2 418.6L277.7 418.6L279.1 418.6L280.6 418.7L282.1 418.7L283.5 418.7L285 418.7L286.4 418.7L287.9 418.8L289.4 418.8L290.8 418.9L292.3 418.9L293.8 419L295.2 419.1L296.7 419.2L298.1 419.3L299.6 419.5L301.1 419.7L302.5 419.8L304 420.1L305.5 420.3L306.9 420.5L308.4 420.8L309.8 421.1L311.3 421.4L312.8 421.7L314.2 422L315.7 422.3L317.1 422.6L318.6 422.9L320.1 423.2L321.5 423.4L323 423.6L324.5 423.8L325.9 424L327.4 424.1L328.8 424.1L330.3 424.1L331.8 424.1L333.2 424L334.7 423.9L336.1 423.7L337.6 423.5L339.1 423.2L340.5 423L342 422.7L343.5 422.4L344.9 422.1L346.4 421.8L347.8 421.5L349.3 421.2L350.8 420.9L352.2 420.6L353.7 420.4L355.2 420.1L356.6 419.9L358.1 419.7L359.5 419.5L361 419.4L362.5 419.2L363.9 419.1L365.4 419L366.8 419L368.3 418.9L369.8 418.8L371.2 418.8L372.7 418.7L374.2 418.7L375.6 418.7L377.1 418.7L378.5 418.7L380 418.6L381.5 418.6L382.9 418.6L384.4 418.6L385.8 418.6L387.3 418.6L388.8 418.6L390.2 418.6L391.7 418.6L393.2 418.6L394.6 418.6L396.1 418.6L397.5 418.6L399 418.6L400.5 418.6L401.9 418.6L403.4 418.6L404.9 418.6L406.3 418.6L407.8 418.6L409.2 418.6L410.7 418.6L412.2 418.6L413.6 418.6L415.1 418.6L416.5 418.6L418 418.6L419.5 418.6L420.9 418.6L422.4 418.6L423.9 418.6L425.3 418.6L426.8 418.6L428.2 418.6L429.7 418.6L431.2 418.6L432.6 418.6L434.1 418.6L435.5 418.6L437 418.6L438.5 418.6L439.9 418.6L441.4 418.6L442.9 418.6L444.3 418.6L445.8 418.6L447.2 418.6L448.7 418.6L450.2 418.6L451.6 418.6L453.1 418.6L454.6 418.6L456 418.6L457.5 418.6L458.9 418.6L460.4 418.6L461.9 418.6L463.3 418.6L464.8 418.6L466.2 418.6L467.7 418.6L469.2 418.6L470.6 418.6L472.1 418.6L473.6 418.6L475 418.6L476.5 418.6L477.9 418.6L479.4 418.6L480.9 418.6L482.3 418.6L483.8 418.6L485.2 418.6L486.7 418.6L488.2 418.6L489.6 418.6L491.1 418.6L492.6 418.6L494 418.6L495.5 418.6L496.9 418.6L498.4 418.6L499.9 418.6L501.3 418.6L502.8 418.6L504.3 418.6L505.7 418.6L507.2 418.6L508.6 418.6L510.1 418.6L511.6 418.6L513 418.6L514.5 418.6L515.9 418.6L517.4 418.6L518.9 418.6L520.3 418.6L521.8 418.6L523.3 418.6L524.7 418.6L526.2 418.6L527.6 418.6L529.1 418.6L530.6 418.6L532 418.6L533.5 418.6L534.9 418.6L536.4 418.6L537.9 418.6L539.3 418.6L540.8 418.6L542.3 418.6L543.7 418.6L545.2 418.6L546.6 418.6L548.1 418.6L549.6 418.6L551 418.6L552.5 418.6L554 418.6L555.4 418.6L556.9 418.6L558.3 418.6L559.8 418.6L561.3 418.6L562.7 418.6L564.2 418.6L565.6 418.6L567.1 418.6L568.6 418.6L570 418.6L571.5 418.6L573 418.6L574.4 418.6L575.9 418.6L577.3 418.6L578.8 418.6L580.3 418.6L581.7 418.6L583.2 418.6L584.6 418.6L586.1 418.6L587.6 418.6L589 418.6L590.5 418.6L592 418.6L593.4 418.6L594.9 418.6L596.3 418.6L597.8 418.6L599.3 418.6L600.7 418.6L602.2 418.6L603.6 418.6L605.1 418.6L606.6 418.6L608 418.6L609.5 418.6L611 418.6L612.4 418.6L613.9 418.6L615.3 418.6L616.8 418.6L618.3 418.6L619.7 418.6L621.2 418.6L622.7 418.6L624.1 418.6L625.6 418.6L627 418.6L628.5 418.6L630 418.6L631.4 418.6L632.9 418.6L634.3 418.6L635.8 418.6L637.3 418.6L638.7 418.6L640.2 418.6L641.7 418.6L643.1 418.6L644.6 418.6L646 418.6L647.5 418.6L649 418.6L650.4 418.6L651.9 418.6L653.3 418.6L654.8 418.6L656.3 418.6L657.7 418.6L659.2 418.6L660.7 418.6L662.1 418.6L663.6 418.6L665 418.6L666.5 418.6L668 418.6L669.4 418.6L670.9 418.6L672.4 418.6L673.8 418.6L675.3 418.6L676.7 418.6L678.2 418.6L679.7 418.6L681.1 418.6L682.6 418.6L684 418.6L685.5 418.6L687 418.6L688.4 418.6L689.9 418.6L691.4 418.6L692.8 418.6L694.3 418.6L695.7 418.6L697.2 418.6L698.7 418.6L700.1 418.6L701.6 418.6L703 418.6L704.5 418.6L706 418.6L707.4 418.6L708.9 418.6L710.4 418.6L711.8 418.6L713.3 418.6L714.7 418.6L716.2 418.6L717.7 418.6L719.1 418.6L720.6 418.6L722.1 418.6L723.5 418.6L725 418.6L726.4 418.6L727.9 418.6L729.4 418.6L730.8 418.6L732.3 418.6L733.7 418.6L735.2 418.6L736.7 418.6L738.1 418.6L739.6 418.6L741.1 418.6L742.5 418.6L744 418.6L745.4 418.6L746.9 418.6L748.4 418.6L749.8 418.6L751.3 418.6L752.7 418.6L754.2 418.6L755.7 418.6L757.1 418.6L758.6 418.6L760.1 418.6L761.5 418.6L763 418.6L764.4 418.6L765.9 418.6L767.4 418.6L768.8 418.6L770.3 418.6L771.8 418.6L773.2 418.6" stroke="#4e2350" stroke-width="1"/>
<path d="M190 418.6L191.4 418.6L192.9 418.6L194.4 418.6L195.8 418.6L197.3 418.6L198.7 418.6L200.2 418.6L201.7 418.6L203.1 418.6L204.6 418.6L206.1 418.6L207.5 418.6L209 418.6L210.4 418.6L211.9 418.6L213.4 418.6L214.8 418.6L216.3 418.6L217.7 418.6L219.2 418.6L220.7 418.6L222.1 418.6L223.6 418.6L225.1 418.6L226.5 418.6L228 418.6L229.4 418.6L230.9 418.6L232.4 418.6L233.8 418.6L235.3 418.6L236.8 418.6L238.2 418.6L239.7 418.6L241.1 418.6L242.6 418.6L244.1 418.6L245.5 418.6L247 418.6L248.4 418.6L249.9 418.6L251.4 418.6L252.8 418.6L254.3 418.6L255.8 418.6L257.2 418.6L258.7 418.6L260.1 418.6L261.6 418.6L263.1 418.6L264.5 418.6L266 418.6L267.4 418.6L268.9 418.6L270.4 418.6L271.8 418.6L273.3 418.6L274.8 418.6L276.2 418.6L277.7 418.6L279.1 418.6L280.6 418.6L282.1 418.6L283.5 418.6L285 418.6L286.4 418.6L287.9 418.6L289.4 418.6L290.8 418.6L292.3 418.6L293.8 418.6L295.2 418.6L296.7 418.6L298.1 418.6L299.6 418.6L301.1 418.6L302.5 418.6L304 418.6L305.5 418.6L306.9 418.6L308.4 418.6L309.8 418.6L311.3 418.6L312.8 418.6L314.2 418.6L315.7 418.6L317.1 418.6L318.6 418.6L320.1 418.6L321.5 418.6L323 418.6L324.5 418.6L325.9 418.6L327.4 418.6L328.8 418.6L330.3 418.6L331.8 418.6L333.2 418.6L334.7 418.6L336.1 418.7L337.6 418.7L339.1 418.7L340.5 418.7L342 418.8L343.5 418.8L344.9 418.9L346.4 419L347.8 419.2L349.3 419.4L350.8 419.6L352.2 419.9L353.7 420.3L355.2 420.9L356.6 421.5L358.1 422.3L359.5 423.3L361 424.4L362.5 425.8L363.9 427.5L365.4 429.4L366.8 431.6L368.3 434L369.8 436.7L371.2 439.7L372.7 442.9L374.2 446.2L375.6 449.7L377.1 453.2L378.5 456.8L380 460.3L381.5 463.6L382.9 466.8L384.4 469.7L385.8 472.4L387.3 474.8L388.8 476.8L390.2 478.6L391.7 480.1L393.2 481.3L394.6 482.3L396.1 483L397.5 483.6L399 484L400.5 484.4L401.9 484.6L403.4 484.8L404.9 484.9L406.3 484.9L407.8 485L409.2 485L410.7 485L412.2 485L413.6 485L415.1 485L416.5 485.1L418 485.1L419.5 485.1L420.9 485.1L422.4 485.1L423.9 485.1L425.3 485.1L426.8 485.1L428.2 485.1L429.7 485.1L431.2 485.1L432.6 485.1L434.1 485.1L435.5 485.1L437 485.1L438.5 485.1L439.9 485.1L441.4 485.1L442.9 485.1L444.3 485.1L445.8 485.1L447.2 485.1L448.7 485.1L450.2 485.1L451.6 485.1L453.1 485.1L454.6 485.1L456 485.1L457.5 485.1L458.9 485.1L460.4 485.1L461.9 485.1L463.3 485.1L464.8 485.1L466.2 485L467.7 485L469.2 485L470.6 485L472.1 485L473.6 485L475 484.9L476.5 484.9L477.9 484.8L479.4 484.6L480.9 484.4L482.3 484.1L483.8 483.7L485.2 483.2L486.7 482.4L488.2 481.5L489.6 480.4L491.1 478.9L492.6 477.2L494 475.2L495.5 472.9L496.9 470.3L498.4 467.4L499.9 464.3L501.3 461L502.8 457.5L504.3 454L505.7 450.4L507.2 446.9L508.6 443.5L510.1 440.3L511.6 437.3L513 434.5L514.5 432L515.9 429.8L517.4 427.8L518.9 426.1L520.3 424.7L521.8 423.5L523.3 422.5L524.7 421.6L526.2 421L527.6 420.4L529.1 420L530.6 419.7L532 419.4L533.5 419.2L534.9 419.1L536.4 418.9L537.9 418.8L539.3 418.8L540.8 418.7L542.3 418.7L543.7 418.7L545.2 418.7L546.6 418.6L548.1 418.6L549.6 418.6L551 418.6L552.5 418.6L554 418.6L555.4 418.6L556.9 418.6L558.3 418.6L559.8 418.6L561.3 418.6L562.7 418.6L564.2 418.6L565.6 418.6L567.1 418.6L568.6 418.6L570 418.6L571.5 418.6L573 418.6L574.4 418.6L575.9 418.6L577.3 418.6L578.8 418.6L580.3 418.6L581.7 418.6L583.2 418.6L584.6 418.6L586.1 418.6L587.6 418.6L589 418.6L590.5 418.6L592 418.6L593.4 418.6L594.9 418.6L596.3 418.6L597.8 418.6L599.3 418.6L600.7 418.6L602.2 418.6L603.6 418.6L605.1 418.6L606.6 418.6L608 418.6L609.5 418.6L611 418.6L612.4 418.6L613.9 418.6L615.3 418.6L616.8 418.6L618.3 418.6L619.7 418.6L621.2 418.6L622.7 418.6L624.1 418.6L625.6 418.6L627 418.6L628.5 418.6L630 418.6L631.4 418.6L632.9 418.6L634.3 418.6L635.8 418.6L637.3 418.6L638.7 418.6L640.2 418.6L641.7 418.6L643.1 418.6L644.6 418.6L646 418.6L647.5 418.6L649 418.6L650.4 418.6L651.9 418.6L653.3 418.6L654.8 418.6L656.3 418.6L657.7 418.6L659.2 418.6L660.7 418.6L662.1 418.6L663.6 418.6L665 418.6L666.5 418.6L668 418.6L669.4 418.6L670.9 418.6L672.4 418.6L673.8 418.6L675.3 418.6L676.7 418.6L678.2 418.6L679.7 418.6L681.1 418.6L682.6 418.6L684 418.6L685.5 418.6L687 418.6L688.4 418.6L689.9 418.6L691.4 418.6L692.8 418.6L694.3 418.6L695.7 418.6L697.2 418.6L698.7 418.6L700.1 418.6L701.6 418.6L703 418.6L704.5 418.6L706 418.6L707.4 418.6L708.9 418.6L710.4 418.6L711.8 418.6L713.3 418.6L714.7 418.6L716.2 418.6L717.7 418.6L719.1 418.6L720.6 418.6L722.1 418.6L723.5 418.6L725 418.6L726.4 418.6L727.9 418.6L729.4 418.6L730.8 418.6L732.3 418.6L733.7 418.6L735.2 418.6L736.7 418.6L738.1 418.6L739.6 418.6L741.1 418.6L742.5 418.6L744 418.6L745.4 418.6L746.9 418.6L748.4 418.6L749.8 418.6L751.3 418.6L752.7 418.6L754.2 418.6L755.7 418.6L757.1 418.6L758.6 418.6L760.1 418.6L761.5 418.6L763 418.6L764.4 418.6L765.9 418.6L767.4 418.6L768.8 418.6L770.3 418.6L771.8 418.6L773.2 418.6" stroke="#4e2350" stroke-width="1"/>
<path d="M190 418.6L191.4 418.6L192.9 418.6L194.4 418.6L195.8 418.6L197.3 418.6L198.7 418.6L200.2 418.6L201.7 418.6L203.1 418.6L204.6 418.6L206.1 418.6L207.5 418.6L209 418.6L210.4 418.6L211.9 418.6L213.4 418.6L214.8 418.6L216.3 418.6L217.7 418.6L219.2 418.6L220.7 418.6L222.1 418.6L223.6 418.6L225.1 418.6L226.5 418.6L228 418.6L229.4 418.6L230.9 418.6L232.4 418.6L233.8 418.6L235.3 418.6L236.8 418.6L238.2 418.6L239.7 418.6L241.1 418.6L242.6 418.6L244.1 418.6L245.5 418.6L247 418.6L248.4 418.6L249.9 418.6L251.4 418.6L252.8 418.6L254.3 418.6L255.8 418.6L257.2 418.6L258.7 418.6L260.1 418.6L261.6 418.6L263.1 418.6L264.5 418.6L266 418.6L267.4 418.6L268.9 418.6L270.4 418.6L271.8 418.6L273.3 418.6L274.8 418.6L276.2 418.6L277.7 418.6L279.1 418.6L280.6 418.7L282.1 418.7L283.5 418.7L285 418.7L286.4 418.7L287.9 418.8L289.4 418.8L290.8 418.9L292.3 418.9L293.8 419L295.2 419.1L296.7 419.2L298.1 419.3L299.6 419.5L301.1 419.7L302.5 419.8L304 420.1L305.5 420.3L306.9 420.5L308.4 420.8L309.8 421.1L311.3 421.4L312.8 421.7L314.2 422L315.7 422.3L317.1 422.6L318.6 422.9L320.1 423.2L321.5 423.4L323 423.6L324.5 423.8L325.9 424L327.4 424.1L328.8 424.1L330.3 424.1L331.8 424.1L333.2 424L334.7 423.9L336.1 423.7L337.6 423.5L339.1 423.3L340.5 423.1L342 422.9L343.5 422.6L344.9 422.4L346.4 422.2L347.8 422L349.3 421.9L350.8 421.9L352.2 421.9L353.7 422.1L355.2 422.3L356.6 422.8L358.1 423.4L359.5 424.2L361 425.2L362.5 426.5L363.9 428L365.4 429.8L366.8 431.9L368.3 434.3L369.8 436.9L371.2 439.9L372.7 443L374.2 446.3L375.6 449.8L377.1 453.3L378.5 456.8L380 460.3L381.5 463.6L382.9 466.8L384.4 469.7L385.8 472.4L387.3 474.8L388.8 476.8L390.2 478.6L391.7 480.1L393.2 481.3L394.6 482.3L396.1 483L397.5 483.6L399 484L400.5 484.4L401.9 484.6L403.4 484.8L404.9 484.9L406.3 484.9L407.8 485L409.2 485L410.7 485L412.2 485L413.6 485L415.1 485L416.5 485.1L418 485.1L419.5 485.1L420.9 485.1L422.4 485.1L423.9 485.1L425.3 485.1L426.8 485.1L428.2 485.1L429.7 485.1L431.2 485.1L432.6 485.1L434.1 485.1L435.5 485.1L437 485.1L438.5 485.1L439.9 485.1L441.4 485.1L442.9 485.1L444.3 485.1L445.8 485.1L447.2 485.1L448.7 485.1L450.2 485.1L451.6 485.1L453.1 485.1L454.6 485.1L456 485.1L457.5 485.1L458.9 485.1L460.4 485.1L461.9 485.1L463.3 485.1L464.8 485.1L466.2 485L467.7 485L469.2 485L470.6 485L472.1 485L473.6 485L475 484.9L476.5 484.9L477.9 484.8L479.4 484.6L480.9 484.4L482.3 484.1L483.8 483.7L485.2 483.2L486.7 482.4L488.2 481.5L489.6 480.4L491.1 478.9L492.6 477.2L494 475.2L495.5 472.9L496.9 470.3L498.4 467.4L499.9 464.3L501.3 461L502.8 457.5L504.3 454L505.7 450.4L507.2 446.9L508.6 443.5L510.1 440.3L511.6 437.3L513 434.5L514.5 432L515.9 429.8L517.4 427.8L518.9 426.1L520.3 424.7L521.8 423.5L523.3 422.5L524.7 421.6L526.2 421L527.6 420.4L529.1 420L530.6 419.7L532 419.4L533.5 419.2L534.9 419.1L536.4 418.9L537.9 418.8L539.3 418.8L540.8 418.7L542.3 418.7L543.7 418.7L545.2 418.7L546.6 418.6L548.1 418.6L549.6 418.6L551 418.6L552.5 418.6L554 418.6L555.4 418.6L556.9 418.6L558.3 418.6L559.8 418.6L561.3 418.6L562.7 418.6L564.2 418.6L565.6 418.6L567.1 418.6L568.6 418.6L570 418.6L571.5 418.6L573 418.6L574.4 418.6L575.9 418.6L577.3 418.6L578.8 418.6L580.3 418.6L581.7 418.6L583.2 418.6L584.6 418.6L586.1 418.6L587.6 418.6L589 418.6L590.5 418.6L592 418.6L593.4 418.6L594.9 418.6L596.3 418.6L597.8 418.6L599.3 418.6L600.7 418.6L602.2 418.6L603.6 418.6L605.1 418.6L606.6 418.6L608 418.6L609.5 418.6L611 418.6L612.4 418.6L613.9 418.6L615.3 418.6L616.8 418.6L618.3 418.6L619.7 418.6L621.2 418.6L622.7 418.6L624.1 418.6L625.6 418.6L627 418.6L628.5 418.6L630 418.6L631.4 418.6L632.9 418.6L634.3 418.6L635.8 418.6L637.3 418.6L638.7 418.6L640.2 418.6L641.7 418.6L643.1 418.6L644.6 418.6L646 418.6L647.5 418.6L649 418.6L650.4 418.6L651.9 418.6L653.3 418.6L654.8 418.6L656.3 418.6L657.7 418.6L659.2 418.6L660.7 418.6L662.1 418.6L663.6 418.6L665 418.6L666.5 418.6L668 418.6L669.4 418.6L670.9 418.6L672.4 418.6L673.8 418.6L675.3 418.6L676.7 418.6L678.2 418.6L679.7 418.6L681.1 418.6L682.6 418.6L684 418.6L685.5 418.6L687 418.6L688.4 418.6L689.9 418.6L691.4 418.6L692.8 418.6L694.3 418.6L695.7 418.6L697.2 418.6L698.7 418.6L700.1 418.6L701.6 418.6L703 418.6L704.5 418.6L706 418.6L707.4 418.6L708.9 418.6L710.4 418.6L711.8 418.6L713.3 418.6L714.7 418.6L716.2 418.6L717.7 418.6L719.1 418.6L720.6 418.6L722.1 418.6L723.5 418.6L725 418.6L726.4 418.6L727.9 418.6L729.4 418.6L730.8 418.6L732.3 418.6L733.7 418.6L735.2 418.6L736.7 418.6L738.1 418.6L739.6 418.6L741.1 418.6L742.5 418.6L744 418.6L745.4 418.6L746.9 418.6L748.4 418.6L749.8 418.6L751.3 418.6L752.7 418.6L754.2 418.6L755.7 418.6L757.1 418.6L758.6 418.6L760.1 418.6L761.5 418.6L763 418.6L764.4 418.6L765.9 418.6L767.4 418.6L768.8 418.6L770.3 418.6L771.8 418.6L773.2 418.6" stroke="#000" stroke-width="2.1" stroke-linejoin="round"/>
<path d="M190.5 568.8H194.6V551.3H198.2V554.3H205.1V534.5H209V576.6H212.8V551.6H216.5V569.7H224V554.3H227.7V549.5H231.6V567.9H235.3V560.7H238.9V559.8H242.5V578.4H246.6V573H250.3V567H253.9V570.1H257.5V572.4H261.1V576H264.7V561.6H268.7V558.9H272.3V557.4H276.1V572.4H279.7V558.5H283.3V571.5H287.3V571.2H290.9V579.1H294.9V571.9H298.5V555.3H302.7V561H306.3V557.1H313V583.3H317.1V564.3H320.7V554.3H324.3V584.2H328V552.9H331.6V583.8H335.6V569.7H338.4" stroke="#000" stroke-width="1.7"/>
<path d="M338.4 569.7V554.3H342.4V576.6H346V555.6H350.2V577.3H353.8V565.7H357.4V566.1H361V571.9H364.6V570.6H368.6V593.2H372.2V586H375.8V602.6H379.4V615.8H383.1V623H386.7V617.1H390.3V617.1H394.4V625.7H398.1V623H402V626.1H405.7V629.3H409.3V624.8H412.9V632.1H416.5V629.3H423.4V627.5H427.3V629.7H431.5V626.1H435.1V630.3H438.7V632.1H442.7V624.8H446.5V626.6H450.1V632.1H453.7V629.7H457.7V630.3H472.2V620.7H475.8V618.5H479.7V617.1H483V624.8H487.1V611.3H490.7V619.4H494.9V606.8H498.5V590.5H502.1V592.8H505.7V595.9H509.4V561H513.3V581.5H517V564.3H520.6V564.3H524.2V556.2H528.2V567.9H531.8V580.2H535.4V574.8H539V549.8H542.6V579.1H546.8V582H550.7V553.4H554" stroke="#0f6cf2" stroke-width="1.7"/>
<path d="M554 553.4V567.9H561.2V565.2H564.8V573.3H568.8V543.5H572.4V540.8H576.6V554.9H580.2V564.3H583.8V601.3H587.4V569.3H591V578.4H594.7V593.2H598.3V544.8H602.3V566.5H605.9V576.6H609.5V555.3H613.1V570.6H616.7V562.1H620.3V576.6H624.5V569.7H628.1V550.7H631.7V573H635.3V580.6H639.1V589.2H643.1V571.5H646.7V565.2H650.3V534.5H653.9V574.2H657.5V576.9H661.1V565.2H664.8V591H668.4V570.6H672.3V561H676V566.5H679.6V570.1H683.7V567.9H687.3V580.2H691V560.7H694.6V566.1H698.2V574.2H701.8V557.4H705.8V560.3H709.4V564.3H713V568.8H716.6V584.5H720.4V553.8H724V538.6H728V576H735.6V552.5H739.2V564.3H746.4V560.3H750.1V566.5H753.7V568.8H757.3V585.1H760.9V581.5H765.1V552.5H768.7V586.3H771.9" stroke="#000" stroke-width="1.7"/>
<path d="M189 620.9H194.6V619.6H198.2V619.6H205.1V618.2H209V621.5H212.8V619.7H216.5V620.9H224V619.9H227.7V619.6H231.6V620.9H235.3V620.1H238.9V620.4H242.5V621.3H246.6V621.2H250.3V621H253.9V621H257.5V621H261.1V621.3H264.7V620.5H268.7V619.8H272.3V619.8H276.1V620.8H279.7V620.3H283.3V621.1H287.3V621.2H290.9V621.1H294.9V621.1H298.5V620H302.7V620.2H306.3V619.6H313V621.1H317.1V620.4H320.7V619.8H324.3V621H328V619.4H331.6V621.2H335.6V620.9H338.4V619.7H342.4V620.1H346V618.5H350.2V620.3H353.8V619.7H357.4V620.3H361V620.5H364.6V620.6H368.6V621.3H372.2V621.1H375.8V621.7H379.4V623.1H383.1V624.6H386.7V625.3H390.3V626H394.4V627.4H398.1V627.4H402V627.2H405.7V627.4H409.3V627.4H412.9V627.4H416.5V627.5H423.4V627.4H427.3V627.3H431.5V627.3H435.1V627.1H438.7V627.3H442.7V627.2H446.5V627.4H450.1V627.3H453.7V627.5H457.7V627.4H472.2V627.5H475.8V627.1H479.7V627.2H483V627.4H487.1V626.8H490.7V624.6H494.9V622.9H498.5V622.1H502.1V622.4H505.7V621.8H509.4V619.7H513.3V621.4H517V620.4H520.6V620.3H524.2V619.6H528.2V620.8H531.8V621.1H535.4V621.1H539V619.2H542.6V621.2H546.8V621.2H550.7V619.8H554V620.7H561.2V620.5H564.8V620.8H568.8V618.9H572.4V618.8H576.6V620H580.2V620.3H583.8V621H587.4V620.4H591V621H594.7V621H598.3V618.7H602.3V620.2H605.9V621.1H609.5V619.4H613.1V620.7H616.7V619.6H620.3V620.6H624.5V620.4H628.1V619.2H631.7V620.5H635.3V621H639.1V621H643.1V620.9H646.7V620.2H650.3V617.9H653.9V620.8H657.5V621.1H661.1V620.2H664.8V621.2H668.4V620.7H672.3V620.1H676V620.3H679.6V620.8H683.7V620.7H687.3V621.1H691V620H694.6V620.2H698.2V620.9H701.8V619.5H705.8V619.8H709.4V620H713V620.3H716.6V621.1H720.4V619.5H724V618H728V621.2H735.6V619.2H739.2V620.1H746.4V620.1H750.1V620.2H753.7V620.3H757.3V621H760.9V620.9H765.1V619.2H768.7V621.2H772.3" stroke="#ff0000" stroke-width="1.5"/>
<path d="M190 564.8L191.4 564.8L192.9 564.8L194.4 564.8L195.8 564.8L197.3 564.8L198.7 564.8L200.2 564.8L201.7 564.8L203.1 564.8L204.6 564.8L206.1 564.8L207.5 564.8L209 564.8L210.4 564.8L211.9 564.8L213.4 564.8L214.8 564.8L216.3 564.8L217.7 564.8L219.2 564.8L220.7 564.8L222.1 564.8L223.6 564.8L225.1 564.8L226.5 564.8L228 564.8L229.4 564.8L230.9 564.8L232.4 564.8L233.8 564.8L235.3 564.8L236.8 564.8L238.2 564.8L239.7 564.8L241.1 564.8L242.6 564.8L244.1 564.8L245.5 564.8L247 564.8L248.4 564.8L249.9 564.8L251.4 564.8L252.8 564.8L254.3 564.8L255.8 564.8L257.2 564.8L258.7 564.8L260.1 564.8L261.6 564.8L263.1 564.8L264.5 564.8L266 564.8L267.4 564.8L268.9 564.8L270.4 564.8L271.8 564.8L273.3 564.8L274.8 564.8L276.2 564.8L277.7 564.8L279.1 564.8L280.6 564.8L282.1 564.8L283.5 564.8L285 564.8L286.4 564.9L287.9 564.9L289.4 564.9L290.8 564.9L292.3 565L293.8 565L295.2 565L296.7 565.1L298.1 565.1L299.6 565.2L301.1 565.3L302.5 565.4L304 565.5L305.5 565.6L306.9 565.7L308.4 565.8L309.8 565.9L311.3 566L312.8 566.1L314.2 566.2L315.7 566.3L317.1 566.4L318.6 566.5L320.1 566.6L321.5 566.6L323 566.7L324.5 566.7L325.9 566.7L327.4 566.8L328.8 566.7L330.3 566.7L331.8 566.7L333.2 566.6L334.7 566.5L336.1 566.4L337.6 566.3L339.1 566.2L340.5 566.1L342 566L343.5 565.9L344.9 565.8L346.4 565.7L347.8 565.6L349.3 565.5L350.8 565.4L352.2 565.3L353.7 565.2L355.2 565.2L356.6 565.1L358.1 565.1L359.5 565L361 565L362.5 564.9L363.9 564.9L365.4 564.9L366.8 564.9L368.3 564.8L369.8 564.8L371.2 564.8L372.7 564.8L374.2 564.8L375.6 564.8L377.1 564.8L378.5 564.8L380 564.8L381.5 564.8L382.9 564.8L384.4 564.8L385.8 564.8L387.3 564.8L388.8 564.8L390.2 564.8L391.7 564.8L393.2 564.8L394.6 564.8L396.1 564.8L397.5 564.8L399 564.8L400.5 564.8L401.9 564.8L403.4 564.8L404.9 564.8L406.3 564.8L407.8 564.8L409.2 564.8L410.7 564.8L412.2 564.8L413.6 564.8L415.1 564.8L416.5 564.8L418 564.8L419.5 564.8L420.9 564.8L422.4 564.8L423.9 564.8L425.3 564.8L426.8 564.8L428.2 564.8L429.7 564.8L431.2 564.8L432.6 564.8L434.1 564.8L435.5 564.8L437 564.8L438.5 564.8L439.9 564.8L441.4 564.8L442.9 564.8L444.3 564.8L445.8 564.8L447.2 564.8L448.7 564.8L450.2 564.8L451.6 564.8L453.1 564.8L454.6 564.8L456 564.8L457.5 564.8L458.9 564.8L460.4 564.8L461.9 564.8L463.3 564.8L464.8 564.8L466.2 564.8L467.7 564.8L469.2 564.8L470.6 564.8L472.1 564.8L473.6 564.8L475 564.8L476.5 564.8L477.9 564.8L479.4 564.8L480.9 564.8L482.3 564.8L483.8 564.8L485.2 564.8L486.7 564.8L488.2 564.8L489.6 564.8L491.1 564.8L492.6 564.8L494 564.8L495.5 564.8L496.9 564.8L498.4 564.8L499.9 564.8L501.3 564.8L502.8 564.8L504.3 564.8L505.7 564.8L507.2 564.8L508.6 564.8L510.1 564.8L511.6 564.8L513 564.8L514.5 564.8L515.9 564.8L517.4 564.8L518.9 564.8L520.3 564.8L521.8 564.8L523.3 564.8L524.7 564.8L526.2 564.8L527.6 564.8L529.1 564.8L530.6 564.8L532 564.8L533.5 564.8L534.9 564.8L536.4 564.8L537.9 564.8L539.3 564.8L540.8 564.8L542.3 564.8L543.7 564.8L545.2 564.8L546.6 564.8L548.1 564.8L549.6 564.8L551 564.8L552.5 564.8L554 564.8L555.4 564.8L556.9 564.8L558.3 564.8L559.8 564.8L561.3 564.8L562.7 564.8L564.2 564.8L565.6 564.8L567.1 564.8L568.6 564.8L570 564.8L571.5 564.8L573 564.8L574.4 564.8L575.9 564.8L577.3 564.8L578.8 564.8L580.3 564.8L581.7 564.8L583.2 564.8L584.6 564.8L586.1 564.8L587.6 564.8L589 564.8L590.5 564.8L592 564.8L593.4 564.8L594.9 564.8L596.3 564.8L597.8 564.8L599.3 564.8L600.7 564.8L602.2 564.8L603.6 564.8L605.1 564.8L606.6 564.8L608 564.8L609.5 564.8L611 564.8L612.4 564.8L613.9 564.8L615.3 564.8L616.8 564.8L618.3 564.8L619.7 564.8L621.2 564.8L622.7 564.8L624.1 564.8L625.6 564.8L627 564.8L628.5 564.8L630 564.8L631.4 564.8L632.9 564.8L634.3 564.8L635.8 564.8L637.3 564.8L638.7 564.8L640.2 564.8L641.7 564.8L643.1 564.8L644.6 564.8L646 564.8L647.5 564.8L649 564.8L650.4 564.8L651.9 564.8L653.3 564.8L654.8 564.8L656.3 564.8L657.7 564.8L659.2 564.8L660.7 564.8L662.1 564.8L663.6 564.8L665 564.8L666.5 564.8L668 564.8L669.4 564.8L670.9 564.8L672.4 564.8L673.8 564.8L675.3 564.8L676.7 564.8L678.2 564.8L679.7 564.8L681.1 564.8L682.6 564.8L684 564.8L685.5 564.8L687 564.8L688.4 564.8L689.9 564.8L691.4 564.8L692.8 564.8L694.3 564.8L695.7 564.8L697.2 564.8L698.7 564.8L700.1 564.8L701.6 564.8L703 564.8L704.5 564.8L706 564.8L707.4 564.8L708.9 564.8L710.4 564.8L711.8 564.8L713.3 564.8L714.7 564.8L716.2 564.8L717.7 564.8L719.1 564.8L720.6 564.8L722.1 564.8L723.5 564.8L725 564.8L726.4 564.8L727.9 564.8L729.4 564.8L730.8 564.8L732.3 564.8L733.7 564.8L735.2 564.8L736.7 564.8L738.1 564.8L739.6 564.8L741.1 564.8L742.5 564.8L744 564.8L745.4 564.8L746.9 564.8L748.4 564.8L749.8 564.8L751.3 564.8L752.7 564.8L754.2 564.8L755.7 564.8L757.1 564.8L758.6 564.8L760.1 564.8L761.5 564.8L763 564.8L764.4 564.8L765.9 564.8L767.4 564.8L768.8 564.8L770.3 564.8L771.8 564.8L773.2 564.8" stroke="#4e2350" stroke-width="1"/>
<path d="M190 564.8L191.4 564.8L192.9 564.8L194.4 564.8L195.8 564.8L197.3 564.8L198.7 564.8L200.2 564.8L201.7 564.8L203.1 564.8L204.6 564.8L206.1 564.8L207.5 564.8L209 564.8L210.4 564.8L211.9 564.8L213.4 564.8L214.8 564.8L216.3 564.8L217.7 564.8L219.2 564.8L220.7 564.8L222.1 564.8L223.6 564.8L225.1 564.8L226.5 564.8L228 564.8L229.4 564.8L230.9 564.8L232.4 564.8L233.8 564.8L235.3 564.8L236.8 564.8L238.2 564.8L239.7 564.8L241.1 564.8L242.6 564.8L244.1 564.8L245.5 564.8L247 564.8L248.4 564.8L249.9 564.8L251.4 564.8L252.8 564.8L254.3 564.8L255.8 564.8L257.2 564.8L258.7 564.8L260.1 564.8L261.6 564.8L263.1 564.8L264.5 564.8L266 564.8L267.4 564.8L268.9 564.8L270.4 564.8L271.8 564.8L273.3 564.8L274.8 564.8L276.2 564.8L277.7 564.8L279.1 564.8L280.6 564.8L282.1 564.8L283.5 564.8L285 564.8L286.4 564.8L287.9 564.8L289.4 564.8L290.8 564.8L292.3 564.8L293.8 564.8L295.2 564.8L296.7 564.8L298.1 564.8L299.6 564.8L301.1 564.8L302.5 564.8L304 564.8L305.5 564.8L306.9 564.8L308.4 564.8L309.8 564.8L311.3 564.8L312.8 564.8L314.2 564.8L315.7 564.8L317.1 564.8L318.6 564.8L320.1 564.8L321.5 564.8L323 564.8L324.5 564.8L325.9 564.8L327.4 564.8L328.8 564.8L330.3 564.8L331.8 564.8L333.2 564.8L334.7 564.8L336.1 564.8L337.6 564.8L339.1 564.8L340.5 564.9L342 564.9L343.5 564.9L344.9 565L346.4 565.1L347.8 565.1L349.3 565.3L350.8 565.4L352.2 565.6L353.7 565.9L355.2 566.2L356.6 566.6L358.1 567.2L359.5 567.8L361 568.6L362.5 569.5L363.9 570.6L365.4 572L366.8 573.5L368.3 575.3L369.8 577.4L371.2 579.7L372.7 582.2L374.2 585L375.6 587.9L377.1 591.1L378.5 594.4L380 597.8L381.5 601.2L382.9 604.5L384.4 607.8L385.8 611L387.3 614L388.8 616.7L390.2 619.2L391.7 621.4L393.2 623.3L394.6 625L396.1 626.4L397.5 627.5L399 628.5L400.5 629.2L401.9 629.8L403.4 630.2L404.9 630.5L406.3 630.7L407.8 630.9L409.2 631L410.7 631.1L412.2 631.1L413.6 631.2L415.1 631.2L416.5 631.2L418 631.2L419.5 631.2L420.9 631.2L422.4 631.2L423.9 631.2L425.3 631.2L426.8 631.2L428.2 631.2L429.7 631.2L431.2 631.2L432.6 631.2L434.1 631.2L435.5 631.2L437 631.2L438.5 631.2L439.9 631.2L441.4 631.2L442.9 631.2L444.3 631.2L445.8 631.2L447.2 631.2L448.7 631.2L450.2 631.2L451.6 631.2L453.1 631.2L454.6 631.2L456 631.2L457.5 631.2L458.9 631.2L460.4 631.2L461.9 631.2L463.3 631.1L464.8 631.1L466.2 631L467.7 630.9L469.2 630.8L470.6 630.6L472.1 630.3L473.6 629.9L475 629.3L476.5 628.6L477.9 627.7L479.4 626.6L480.9 625.3L482.3 623.7L483.8 621.8L485.2 619.7L486.7 617.2L488.2 614.5L489.6 611.6L491.1 608.5L492.6 605.2L494 601.8L495.5 598.4L496.9 595.1L498.4 591.7L499.9 588.6L501.3 585.5L502.8 582.7L504.3 580.1L505.7 577.8L507.2 575.7L508.6 573.9L510.1 572.3L511.6 570.9L513 569.7L514.5 568.8L515.9 567.9L517.4 567.3L518.9 566.7L520.3 566.3L521.8 565.9L523.3 565.7L524.7 565.5L526.2 565.3L527.6 565.2L529.1 565.1L530.6 565L532 564.9L533.5 564.9L534.9 564.9L536.4 564.8L537.9 564.8L539.3 564.8L540.8 564.8L542.3 564.8L543.7 564.8L545.2 564.8L546.6 564.8L548.1 564.8L549.6 564.8L551 564.8L552.5 564.8L554 564.8L555.4 564.8L556.9 564.8L558.3 564.8L559.8 564.8L561.3 564.8L562.7 564.8L564.2 564.8L565.6 564.8L567.1 564.8L568.6 564.8L570 564.8L571.5 564.8L573 564.8L574.4 564.8L575.9 564.8L577.3 564.8L578.8 564.8L580.3 564.8L581.7 564.8L583.2 564.8L584.6 564.8L586.1 564.8L587.6 564.8L589 564.8L590.5 564.8L592 564.8L593.4 564.8L594.9 564.8L596.3 564.8L597.8 564.8L599.3 564.8L600.7 564.8L602.2 564.8L603.6 564.8L605.1 564.8L606.6 564.8L608 564.8L609.5 564.8L611 564.8L612.4 564.8L613.9 564.8L615.3 564.8L616.8 564.8L618.3 564.8L619.7 564.8L621.2 564.8L622.7 564.8L624.1 564.8L625.6 564.8L627 564.8L628.5 564.8L630 564.8L631.4 564.8L632.9 564.8L634.3 564.8L635.8 564.8L637.3 564.8L638.7 564.8L640.2 564.8L641.7 564.8L643.1 564.8L644.6 564.8L646 564.8L647.5 564.8L649 564.8L650.4 564.8L651.9 564.8L653.3 564.8L654.8 564.8L656.3 564.8L657.7 564.8L659.2 564.8L660.7 564.8L662.1 564.8L663.6 564.8L665 564.8L666.5 564.8L668 564.8L669.4 564.8L670.9 564.8L672.4 564.8L673.8 564.8L675.3 564.8L676.7 564.8L678.2 564.8L679.7 564.8L681.1 564.8L682.6 564.8L684 564.8L685.5 564.8L687 564.8L688.4 564.8L689.9 564.8L691.4 564.8L692.8 564.8L694.3 564.8L695.7 564.8L697.2 564.8L698.7 564.8L700.1 564.8L701.6 564.8L703 564.8L704.5 564.8L706 564.8L707.4 564.8L708.9 564.8L710.4 564.8L711.8 564.8L713.3 564.8L714.7 564.8L716.2 564.8L717.7 564.8L719.1 564.8L720.6 564.8L722.1 564.8L723.5 564.8L725 564.8L726.4 564.8L727.9 564.8L729.4 564.8L730.8 564.8L732.3 564.8L733.7 564.8L735.2 564.8L736.7 564.8L738.1 564.8L739.6 564.8L741.1 564.8L742.5 564.8L744 564.8L745.4 564.8L746.9 564.8L748.4 564.8L749.8 564.8L751.3 564.8L752.7 564.8L754.2 564.8L755.7 564.8L757.1 564.8L758.6 564.8L760.1 564.8L761.5 564.8L763 564.8L764.4 564.8L765.9 564.8L767.4 564.8L768.8 564.8L770.3 564.8L771.8 564.8L773.2 564.8" stroke="#4e2350" stroke-width="1"/>
<path d="M190 564.8L191.4 564.8L192.9 564.8L194.4 564.8L195.8 564.8L197.3 564.8L198.7 564.8L200.2 564.8L201.7 564.8L203.1 564.8L204.6 564.8L206.1 564.8L207.5 564.8L209 564.8L210.4 564.8L211.9 564.8L213.4 564.8L214.8 564.8L216.3 564.8L217.7 564.8L219.2 564.8L220.7 564.8L222.1 564.8L223.6 564.8L225.1 564.8L226.5 564.8L228 564.8L229.4 564.8L230.9 564.8L232.4 564.8L233.8 564.8L235.3 564.8L236.8 564.8L238.2 564.8L239.7 564.8L241.1 564.8L242.6 564.8L244.1 564.8L245.5 564.8L247 564.8L248.4 564.8L249.9 564.8L251.4 564.8L252.8 564.8L254.3 564.8L255.8 564.8L257.2 564.8L258.7 564.8L260.1 564.8L261.6 564.8L263.1 564.8L264.5 564.8L266 564.8L267.4 564.8L268.9 564.8L270.4 564.8L271.8 564.8L273.3 564.8L274.8 564.8L276.2 564.8L277.7 564.8L279.1 564.8L280.6 564.8L282.1 564.8L283.5 564.8L285 564.8L286.4 564.9L287.9 564.9L289.4 564.9L290.8 564.9L292.3 565L293.8 565L295.2 565L296.7 565.1L298.1 565.1L299.6 565.2L301.1 565.3L302.5 565.4L304 565.5L305.5 565.6L306.9 565.7L308.4 565.8L309.8 565.9L311.3 566L312.8 566.1L314.2 566.2L315.7 566.3L317.1 566.4L318.6 566.5L320.1 566.6L321.5 566.6L323 566.7L324.5 566.7L325.9 566.8L327.4 566.8L328.8 566.7L330.3 566.7L331.8 566.7L333.2 566.6L334.7 566.5L336.1 566.5L337.6 566.4L339.1 566.3L340.5 566.2L342 566.1L343.5 566.1L344.9 566L346.4 566L347.8 565.9L349.3 566L350.8 566L352.2 566.2L353.7 566.3L355.2 566.6L356.6 567L358.1 567.4L359.5 568L361 568.8L362.5 569.7L363.9 570.8L365.4 572.1L366.8 573.6L368.3 575.4L369.8 577.4L371.2 579.7L372.7 582.2L374.2 585L375.6 588L377.1 591.1L378.5 594.4L380 597.8L381.5 601.2L382.9 604.5L384.4 607.8L385.8 611L387.3 614L388.8 616.7L390.2 619.2L391.7 621.4L393.2 623.3L394.6 625L396.1 626.4L397.5 627.5L399 628.5L400.5 629.2L401.9 629.8L403.4 630.2L404.9 630.5L406.3 630.7L407.8 630.9L409.2 631L410.7 631.1L412.2 631.1L413.6 631.2L415.1 631.2L416.5 631.2L418 631.2L419.5 631.2L420.9 631.2L422.4 631.2L423.9 631.2L425.3 631.2L426.8 631.2L428.2 631.2L429.7 631.2L431.2 631.2L432.6 631.2L434.1 631.2L435.5 631.2L437 631.2L438.5 631.2L439.9 631.2L441.4 631.2L442.9 631.2L444.3 631.2L445.8 631.2L447.2 631.2L448.7 631.2L450.2 631.2L451.6 631.2L453.1 631.2L454.6 631.2L456 631.2L457.5 631.2L458.9 631.2L460.4 631.2L461.9 631.2L463.3 631.1L464.8 631.1L466.2 631L467.7 630.9L469.2 630.8L470.6 630.6L472.1 630.3L473.6 629.9L475 629.3L476.5 628.6L477.9 627.7L479.4 626.6L480.9 625.3L482.3 623.7L483.8 621.8L485.2 619.7L486.7 617.2L488.2 614.5L489.6 611.6L491.1 608.5L492.6 605.2L494 601.8L495.5 598.4L496.9 595.1L498.4 591.7L499.9 588.6L501.3 585.5L502.8 582.7L504.3 580.1L505.7 577.8L507.2 575.7L508.6 573.9L510.1 572.3L511.6 570.9L513 569.7L514.5 568.8L515.9 567.9L517.4 567.3L518.9 566.7L520.3 566.3L521.8 565.9L523.3 565.7L524.7 565.5L526.2 565.3L527.6 565.2L529.1 565.1L530.6 565L532 564.9L533.5 564.9L534.9 564.9L536.4 564.8L537.9 564.8L539.3 564.8L540.8 564.8L542.3 564.8L543.7 564.8L545.2 564.8L546.6 564.8L548.1 564.8L549.6 564.8L551 564.8L552.5 564.8L554 564.8L555.4 564.8L556.9 564.8L558.3 564.8L559.8 564.8L561.3 564.8L562.7 564.8L564.2 564.8L565.6 564.8L567.1 564.8L568.6 564.8L570 564.8L571.5 564.8L573 564.8L574.4 564.8L575.9 564.8L577.3 564.8L578.8 564.8L580.3 564.8L581.7 564.8L583.2 564.8L584.6 564.8L586.1 564.8L587.6 564.8L589 564.8L590.5 564.8L592 564.8L593.4 564.8L594.9 564.8L596.3 564.8L597.8 564.8L599.3 564.8L600.7 564.8L602.2 564.8L603.6 564.8L605.1 564.8L606.6 564.8L608 564.8L609.5 564.8L611 564.8L612.4 564.8L613.9 564.8L615.3 564.8L616.8 564.8L618.3 564.8L619.7 564.8L621.2 564.8L622.7 564.8L624.1 564.8L625.6 564.8L627 564.8L628.5 564.8L630 564.8L631.4 564.8L632.9 564.8L634.3 564.8L635.8 564.8L637.3 564.8L638.7 564.8L640.2 564.8L641.7 564.8L643.1 564.8L644.6 564.8L646 564.8L647.5 564.8L649 564.8L650.4 564.8L651.9 564.8L653.3 564.8L654.8 564.8L656.3 564.8L657.7 564.8L659.2 564.8L660.7 564.8L662.1 564.8L663.6 564.8L665 564.8L666.5 564.8L668 564.8L669.4 564.8L670.9 564.8L672.4 564.8L673.8 564.8L675.3 564.8L676.7 564.8L678.2 564.8L679.7 564.8L681.1 564.8L682.6 564.8L684 564.8L685.5 564.8L687 564.8L688.4 564.8L689.9 564.8L691.4 564.8L692.8 564.8L694.3 564.8L695.7 564.8L697.2 564.8L698.7 564.8L700.1 564.8L701.6 564.8L703 564.8L704.5 564.8L706 564.8L707.4 564.8L708.9 564.8L710.4 564.8L711.8 564.8L713.3 564.8L714.7 564.8L716.2 564.8L717.7 564.8L719.1 564.8L720.6 564.8L722.1 564.8L723.5 564.8L725 564.8L726.4 564.8L727.9 564.8L729.4 564.8L730.8 564.8L732.3 564.8L733.7 564.8L735.2 564.8L736.7 564.8L738.1 564.8L739.6 564.8L741.1 564.8L742.5 564.8L744 564.8L745.4 564.8L746.9 564.8L748.4 564.8L749.8 564.8L751.3 564.8L752.7 564.8L754.2 564.8L755.7 564.8L757.1 564.8L758.6 564.8L760.1 564.8L761.5 564.8L763 564.8L764.4 564.8L765.9 564.8L767.4 564.8L768.8 564.8L770.3 564.8L771.8 564.8L773.2 564.8" stroke="#000" stroke-width="2.1" stroke-linejoin="round"/>
<path d="M190.5 685.9H191.5V717.5H195.1V722H199.1V706.3H203.3V741H206.9V725.1H210.5V715.7H214.1V699.8H218.1V722H225.9V689.5H229.5V720.8H233.1V702.2H236.7V699.1H240.3V697.3H244.5V687.2H248.4V741.4H256V697.6H259.7V708.5H263.3V716.1H267.4V695.8H271.4V700.3H275V710.3H279.2V697.3H282.8V707.6H286.8V721.5H290.4V732.9H294.5V722.6H298.1V690.4H301.8V711.2H305.4V713.5H309.5V716.1H313.1V713H317.1V746.4H321.1V716.1H324.7V704H328.3V727.5H331.9V714.3H335.6V670.5H339.7V687.2H343.3V713.9H346.9V676.3H350.5V702.2H354.3V703.4H358.3V707H361.9" stroke="#000" stroke-width="1.7"/>
<path d="M361.9 707V713.9H365.9V690H370V729.3H373.7V726.9H377.3V744.6H380.9V742.8H384.5V762.7H388.1V748.6H392.6V764.5H396.3V768.1H400.2V758.7H408V762.3H411.6V778.1H415.2V772.1H418.8V767.8H426.4V777.2H430.6V777.5H434.2V772.6H442V777.5H449.6V772.6H457.2V777.5H460.8V772.6H464.9V767.8H468.5V772.6H472.2V755.5H476.1V760H479.7V753.7H483V733.4H487.1V755.5H491.1V759.1H495.3V736.5H498.9V732.9H502.5V737H506.1V707H510.1V699.1H513.9V733.8H517.5V729.3H521.5V703.4H525.1V691.9H529.1V715.7H532.7V737.8H536.8V703.4H540.8V706.7H544.4V726.6H548.6V733.8H552.2V728H555.8" stroke="#0f6cf2" stroke-width="1.7"/>
<path d="M555.8 728V690H559.4V706.7H563.4V704.9H567V701.3H571.2V678.7H574.8V701.6H578.4V739.6H582.4V717.5H586.5V699.1H590.1V697.3H593.8V723.8H597.4V705.8H601.5V717.2H605.1V675.6H609.1V697.6H612.7V700.9H616.7V747.3H620.3V729.3H624.5V694.9H628.1V688.2H631.7V707.6H635.3V711.7H639.5V683.2H643.1V720.8H646.7V715.3H650.7V679.2H654.3V716.1H658.4V680.5H662V705.8H665.7V732.3H669.6V708.5H673.3V700.9H677.4V679.2H681V666.6H684.6V715.7H688.3V713.9H692.2V740.1H695.8V731.6H700V760.9H703.6V742.8H707.6V732H711.7V719H715.4V732H719V695.5H722.6V723.3H726.6V713.9H730.2V730.2H734.3V696.2H738V728.7H741.9V677.8H745.7V726.6H749.7V725.7H755.5V666.9H760.5V687.2H764.5V709.4H768.1V736.5H771.9" stroke="#000" stroke-width="1.7"/>
<path d="M189 752.8H195.1V755.5H199.1V754.6H203.3V759.1H206.9V756.4H210.5V755.5H214.1V753.7H218.1V756.4H225.9V752.2H229.5V756.4H233.1V754H236.7V753.7H244.5V752.2H248.4V760H256V753.7H259.7V755.5H267.4V753.7H275V755.5H279.2V753.7H282.8V755.1H286.8V756.4H290.4V758.7H294.5V756.4H298.1V752.8H301.8V755.5H313.5V755.8H317.1V761.3H321.1V756.4H324.7V754.6H328.3V757.3H331.9V755.5H335.6V751.9H340.2V753.7H343.8V756.4H347.5V752.2H351.1V754.6H361.9V756.4H365.5V753.7H370V758.2H377.3V760.9H384.5V763.6H392.6V765.4H399.9V764.5H411.6V771.7H415.2V768.5H418.8V766.7H427V770.8H434.2V767.8H441.4V770.8H448.7V768.5H457.7V770.8H461.3V768.5H464.9V766.7H468.5V767.8H472.2V763.1H479.7V762.7H482.6V760.9H487.1V763.6H495.3V758.7H506.1V754.6H513.3V758.7H521.5V753.7H528.7V756.4H532.7V759.4H536.8V755.5H544.1V759.1H552.2V757.3H556.7V752.8H559.4V756.4H567.6V752.8H574.8V755.5H578.4V760H582.4V757.3H586.5V755.1H593.8V758.2H597.4V755.5H601.9V757.3H605.1V752.2H609.1V755.1H616.7V762.7H620.3V759.4H624.5V753.7H628.1V756.4H632.2V755.8H638.6V752.8H643.1V757.3H646.7V755.5H650.7V751.9H654.3V755.1H658.4V752.2H662V755.5H665.7V758.7H669.6V755.5H673.3V754H677.4V751.9H684.6V756.4H688.3V757.3H692.2V760.9H695.8V759.4H700V765.4H703.6V761.8H707.6V759.4H711.7V757.6H719V754H722.6V758.2H726.6V756.4H730.2V758.7H734.3V754H738V758.2H741.9V751.9H745.7V758.2H755.5V751.5H760.5V753.7H764.5V756.4H768.1V759.4H771.9" stroke="#ff0000" stroke-width="1.5"/>
<path d="M190 711L191.4 711L192.9 711L194.4 711L195.8 711L197.3 711L198.7 711L200.2 711L201.7 711L203.1 711L204.6 711L206.1 711L207.5 711L209 711L210.4 711L211.9 711L213.4 711L214.8 711L216.3 711L217.7 711L219.2 711L220.7 711L222.1 711L223.6 711L225.1 711L226.5 711L228 711L229.4 711L230.9 711L232.4 711L233.8 711L235.3 711L236.8 711L238.2 711L239.7 711L241.1 711L242.6 711L244.1 711L245.5 711L247 711L248.4 711L249.9 711L251.4 711L252.8 711L254.3 711L255.8 711L257.2 711L258.7 711L260.1 711L261.6 711L263.1 711L264.5 711L266 711L267.4 711L268.9 711L270.4 711L271.8 711L273.3 711L274.8 711L276.2 711L277.7 711L279.1 711L280.6 711L282.1 711L283.5 711L285 711L286.4 711L287.9 711L289.4 711L290.8 711L292.3 711L293.8 711L295.2 711.1L296.7 711.1L298.1 711.1L299.6 711.1L301.1 711.2L302.5 711.2L304 711.3L305.5 711.3L306.9 711.4L308.4 711.4L309.8 711.5L311.3 711.5L312.8 711.6L314.2 711.6L315.7 711.7L317.1 711.7L318.6 711.8L320.1 711.8L321.5 711.8L323 711.9L324.5 711.9L325.9 711.9L327.4 711.9L328.8 711.9L330.3 711.9L331.8 711.8L333.2 711.8L334.7 711.8L336.1 711.7L337.6 711.7L339.1 711.7L340.5 711.6L342 711.5L343.5 711.5L344.9 711.4L346.4 711.4L347.8 711.3L349.3 711.3L350.8 711.3L352.2 711.2L353.7 711.2L355.2 711.1L356.6 711.1L358.1 711.1L359.5 711.1L361 711L362.5 711L363.9 711L365.4 711L366.8 711L368.3 711L369.8 711L371.2 711L372.7 711L374.2 711L375.6 711L377.1 711L378.5 711L380 711L381.5 711L382.9 711L384.4 711L385.8 711L387.3 711L388.8 711L390.2 711L391.7 711L393.2 711L394.6 711L396.1 711L397.5 711L399 711L400.5 711L401.9 711L403.4 711L404.9 711L406.3 711L407.8 711L409.2 711L410.7 711L412.2 711L413.6 711L415.1 711L416.5 711L418 711L419.5 711L420.9 711L422.4 711L423.9 711L425.3 711L426.8 711L428.2 711L429.7 711L431.2 711L432.6 711L434.1 711L435.5 711L437 711L438.5 711L439.9 711L441.4 711L442.9 711L444.3 711L445.8 711L447.2 711L448.7 711L450.2 711L451.6 711L453.1 711L454.6 711L456 711L457.5 711L458.9 711L460.4 711L461.9 711L463.3 711L464.8 711L466.2 711L467.7 711L469.2 711L470.6 711L472.1 711L473.6 711L475 711L476.5 711L477.9 711L479.4 711L480.9 711L482.3 711L483.8 711L485.2 711L486.7 711L488.2 711L489.6 711L491.1 711L492.6 711L494 711L495.5 711L496.9 711L498.4 711L499.9 711L501.3 711L502.8 711L504.3 711L505.7 711L507.2 711L508.6 711L510.1 711L511.6 711L513 711L514.5 711L515.9 711L517.4 711L518.9 711L520.3 711L521.8 711L523.3 711L524.7 711L526.2 711L527.6 711L529.1 711L530.6 711L532 711L533.5 711L534.9 711L536.4 711L537.9 711L539.3 711L540.8 711L542.3 711L543.7 711L545.2 711L546.6 711L548.1 711L549.6 711L551 711L552.5 711L554 711L555.4 711L556.9 711L558.3 711L559.8 711L561.3 711L562.7 711L564.2 711L565.6 711L567.1 711L568.6 711L570 711L571.5 711L573 711L574.4 711L575.9 711L577.3 711L578.8 711L580.3 711L581.7 711L583.2 711L584.6 711L586.1 711L587.6 711L589 711L590.5 711L592 711L593.4 711L594.9 711L596.3 711L597.8 711L599.3 711L600.7 711L602.2 711L603.6 711L605.1 711L606.6 711L608 711L609.5 711L611 711L612.4 711L613.9 711L615.3 711L616.8 711L618.3 711L619.7 711L621.2 711L622.7 711L624.1 711L625.6 711L627 711L628.5 711L630 711L631.4 711L632.9 711L634.3 711L635.8 711L637.3 711L638.7 711L640.2 711L641.7 711L643.1 711L644.6 711L646 711L647.5 711L649 711L650.4 711L651.9 711L653.3 711L654.8 711L656.3 711L657.7 711L659.2 711L660.7 711L662.1 711L663.6 711L665 711L666.5 711L668 711L669.4 711L670.9 711L672.4 711L673.8 711L675.3 711L676.7 711L678.2 711L679.7 711L681.1 711L682.6 711L684 711L685.5 711L687 711L688.4 711L689.9 711L691.4 711L692.8 711L694.3 711L695.7 711L697.2 711L698.7 711L700.1 711L701.6 711L703 711L704.5 711L706 711L707.4 711L708.9 711L710.4 711L711.8 711L713.3 711L714.7 711L716.2 711L717.7 711L719.1 711L720.6 711L722.1 711L723.5 711L725 711L726.4 711L727.9 711L729.4 711L730.8 711L732.3 711L733.7 711L735.2 711L736.7 711L738.1 711L739.6 711L741.1 711L742.5 711L744 711L745.4 711L746.9 711L748.4 711L749.8 711L751.3 711L752.7 711L754.2 711L755.7 711L757.1 711L758.6 711L760.1 711L761.5 711L763 711L764.4 711L765.9 711L767.4 711L768.8 711L770.3 711L771.8 711L773.2 711" stroke="#4e2350" stroke-width="1"/>
<path d="M190 711L191.4 711L192.9 711L194.4 711L195.8 711L197.3 711L198.7 711L200.2 711L201.7 711L203.1 711L204.6 711L206.1 711L207.5 711L209 711L210.4 711L211.9 711L213.4 711L214.8 711L216.3 711L217.7 711L219.2 711L220.7 711L222.1 711L223.6 711L225.1 711L226.5 711L228 711L229.4 711L230.9 711L232.4 711L233.8 711L235.3 711L236.8 711L238.2 711L239.7 711L241.1 711L242.6 711L244.1 711L245.5 711L247 711L248.4 711L249.9 711L251.4 711L252.8 711L254.3 711L255.8 711L257.2 711L258.7 711L260.1 711L261.6 711L263.1 711L264.5 711L266 711L267.4 711L268.9 711L270.4 711L271.8 711L273.3 711L274.8 711L276.2 711L277.7 711L279.1 711L280.6 711L282.1 711L283.5 711L285 711L286.4 711L287.9 711L289.4 711L290.8 711L292.3 711L293.8 711L295.2 711L296.7 711L298.1 711L299.6 711L301.1 711L302.5 711L304 711L305.5 711L306.9 711L308.4 711L309.8 711L311.3 711L312.8 711L314.2 711L315.7 711L317.1 711L318.6 711L320.1 711L321.5 711L323 711L324.5 711L325.9 711L327.4 711L328.8 711L330.3 711L331.8 711L333.2 711L334.7 711L336.1 711L337.6 711L339.1 711L340.5 711L342 711L343.5 711L344.9 711L346.4 711.1L347.8 711.1L349.3 711.2L350.8 711.2L352.2 711.3L353.7 711.5L355.2 711.6L356.6 711.8L358.1 712.1L359.5 712.4L361 712.8L362.5 713.3L363.9 713.9L365.4 714.6L366.8 715.4L368.3 716.5L369.8 717.7L371.2 719.1L372.7 720.7L374.2 722.6L375.6 724.7L377.1 727L378.5 729.5L380 732.2L381.5 735.1L382.9 738.2L384.4 741.4L385.8 744.6L387.3 747.9L388.8 751.1L390.2 754.3L391.7 757.3L393.2 760.1L394.6 762.8L396.1 765.2L397.5 767.3L399 769.2L400.5 770.8L401.9 772.2L403.4 773.4L404.9 774.3L406.3 775.1L407.8 775.7L409.2 776.2L410.7 776.5L412.2 776.8L413.6 777L415.1 777.1L416.5 777.2L418 777.3L419.5 777.3L420.9 777.3L422.4 777.4L423.9 777.4L425.3 777.4L426.8 777.4L428.2 777.4L429.7 777.4L431.2 777.4L432.6 777.4L434.1 777.4L435.5 777.4L437 777.4L438.5 777.4L439.9 777.4L441.4 777.4L442.9 777.4L444.3 777.4L445.8 777.4L447.2 777.4L448.7 777.4L450.2 777.4L451.6 777.4L453.1 777.4L454.6 777.4L456 777.3L457.5 777.3L458.9 777.3L460.4 777.2L461.9 777.1L463.3 776.9L464.8 776.7L466.2 776.4L467.7 776L469.2 775.5L470.6 774.9L472.1 774.1L473.6 773L475 771.8L476.5 770.3L477.9 768.6L479.4 766.6L480.9 764.4L482.3 761.9L483.8 759.2L485.2 756.3L486.7 753.2L488.2 750L489.6 746.8L491.1 743.5L492.6 740.3L494 737.2L495.5 734.2L496.9 731.3L498.4 728.6L499.9 726.2L501.3 723.9L502.8 721.9L504.3 720.2L505.7 718.6L507.2 717.3L508.6 716.1L510.1 715.1L511.6 714.3L513 713.6L514.5 713.1L515.9 712.6L517.4 712.3L518.9 712L520.3 711.7L521.8 711.6L523.3 711.4L524.7 711.3L526.2 711.2L527.6 711.1L529.1 711.1L530.6 711.1L532 711L533.5 711L534.9 711L536.4 711L537.9 711L539.3 711L540.8 711L542.3 711L543.7 711L545.2 711L546.6 711L548.1 711L549.6 711L551 711L552.5 711L554 711L555.4 711L556.9 711L558.3 711L559.8 711L561.3 711L562.7 711L564.2 711L565.6 711L567.1 711L568.6 711L570 711L571.5 711L573 711L574.4 711L575.9 711L577.3 711L578.8 711L580.3 711L581.7 711L583.2 711L584.6 711L586.1 711L587.6 711L589 711L590.5 711L592 711L593.4 711L594.9 711L596.3 711L597.8 711L599.3 711L600.7 711L602.2 711L603.6 711L605.1 711L606.6 711L608 711L609.5 711L611 711L612.4 711L613.9 711L615.3 711L616.8 711L618.3 711L619.7 711L621.2 711L622.7 711L624.1 711L625.6 711L627 711L628.5 711L630 711L631.4 711L632.9 711L634.3 711L635.8 711L637.3 711L638.7 711L640.2 711L641.7 711L643.1 711L644.6 711L646 711L647.5 711L649 711L650.4 711L651.9 711L653.3 711L654.8 711L656.3 711L657.7 711L659.2 711L660.7 711L662.1 711L663.6 711L665 711L666.5 711L668 711L669.4 711L670.9 711L672.4 711L673.8 711L675.3 711L676.7 711L678.2 711L679.7 711L681.1 711L682.6 711L684 711L685.5 711L687 711L688.4 711L689.9 711L691.4 711L692.8 711L694.3 711L695.7 711L697.2 711L698.7 711L700.1 711L701.6 711L703 711L704.5 711L706 711L707.4 711L708.9 711L710.4 711L711.8 711L713.3 711L714.7 711L716.2 711L717.7 711L719.1 711L720.6 711L722.1 711L723.5 711L725 711L726.4 711L727.9 711L729.4 711L730.8 711L732.3 711L733.7 711L735.2 711L736.7 711L738.1 711L739.6 711L741.1 711L742.5 711L744 711L745.4 711L746.9 711L748.4 711L749.8 711L751.3 711L752.7 711L754.2 711L755.7 711L757.1 711L758.6 711L760.1 711L761.5 711L763 711L764.4 711L765.9 711L767.4 711L768.8 711L770.3 711L771.8 711L773.2 711" stroke="#4e2350" stroke-width="1"/>
<path d="M190 711L191.4 711L192.9 711L194.4 711L195.8 711L197.3 711L198.7 711L200.2 711L201.7 711L203.1 711L204.6 711L206.1 711L207.5 711L209 711L210.4 711L211.9 711L213.4 711L214.8 711L216.3 711L217.7 711L219.2 711L220.7 711L222.1 711L223.6 711L225.1 711L226.5 711L228 711L229.4 711L230.9 711L232.4 711L233.8 711L235.3 711L236.8 711L238.2 711L239.7 711L241.1 711L242.6 711L244.1 711L245.5 711L247 711L248.4 711L249.9 711L251.4 711L252.8 711L254.3 711L255.8 711L257.2 711L258.7 711L260.1 711L261.6 711L263.1 711L264.5 711L266 711L267.4 711L268.9 711L270.4 711L271.8 711L273.3 711L274.8 711L276.2 711L277.7 711L279.1 711L280.6 711L282.1 711L283.5 711L285 711L286.4 711L287.9 711L289.4 711L290.8 711L292.3 711L293.8 711L295.2 711.1L296.7 711.1L298.1 711.1L299.6 711.1L301.1 711.2L302.5 711.2L304 711.3L305.5 711.3L306.9 711.4L308.4 711.4L309.8 711.5L311.3 711.5L312.8 711.6L314.2 711.6L315.7 711.7L317.1 711.7L318.6 711.8L320.1 711.8L321.5 711.8L323 711.9L324.5 711.9L325.9 711.9L327.4 711.9L328.8 711.9L330.3 711.9L331.8 711.8L333.2 711.8L334.7 711.8L336.1 711.8L337.6 711.7L339.1 711.7L340.5 711.6L342 711.6L343.5 711.6L344.9 711.5L346.4 711.5L347.8 711.5L349.3 711.5L350.8 711.5L352.2 711.6L353.7 711.7L355.2 711.8L356.6 712L358.1 712.2L359.5 712.5L361 712.9L362.5 713.3L363.9 713.9L365.4 714.6L366.8 715.5L368.3 716.5L369.8 717.7L371.2 719.1L372.7 720.7L374.2 722.6L375.6 724.7L377.1 727L378.5 729.5L380 732.2L381.5 735.1L382.9 738.2L384.4 741.4L385.8 744.6L387.3 747.9L388.8 751.1L390.2 754.3L391.7 757.3L393.2 760.1L394.6 762.8L396.1 765.2L397.5 767.3L399 769.2L400.5 770.8L401.9 772.2L403.4 773.4L404.9 774.3L406.3 775.1L407.8 775.7L409.2 776.2L410.7 776.5L412.2 776.8L413.6 777L415.1 777.1L416.5 777.2L418 777.3L419.5 777.3L420.9 777.3L422.4 777.4L423.9 777.4L425.3 777.4L426.8 777.4L428.2 777.4L429.7 777.4L431.2 777.4L432.6 777.4L434.1 777.4L435.5 777.4L437 777.4L438.5 777.4L439.9 777.4L441.4 777.4L442.9 777.4L444.3 777.4L445.8 777.4L447.2 777.4L448.7 777.4L450.2 777.4L451.6 777.4L453.1 777.4L454.6 777.4L456 777.3L457.5 777.3L458.9 777.3L460.4 777.2L461.9 777.1L463.3 776.9L464.8 776.7L466.2 776.4L467.7 776L469.2 775.5L470.6 774.9L472.1 774.1L473.6 773L475 771.8L476.5 770.3L477.9 768.6L479.4 766.6L480.9 764.4L482.3 761.9L483.8 759.2L485.2 756.3L486.7 753.2L488.2 750L489.6 746.8L491.1 743.5L492.6 740.3L494 737.2L495.5 734.2L496.9 731.3L498.4 728.6L499.9 726.2L501.3 723.9L502.8 721.9L504.3 720.2L505.7 718.6L507.2 717.3L508.6 716.1L510.1 715.1L511.6 714.3L513 713.6L514.5 713.1L515.9 712.6L517.4 712.3L518.9 712L520.3 711.7L521.8 711.6L523.3 711.4L524.7 711.3L526.2 711.2L527.6 711.1L529.1 711.1L530.6 711.1L532 711L533.5 711L534.9 711L536.4 711L537.9 711L539.3 711L540.8 711L542.3 711L543.7 711L545.2 711L546.6 711L548.1 711L549.6 711L551 711L552.5 711L554 711L555.4 711L556.9 711L558.3 711L559.8 711L561.3 711L562.7 711L564.2 711L565.6 711L567.1 711L568.6 711L570 711L571.5 711L573 711L574.4 711L575.9 711L577.3 711L578.8 711L580.3 711L581.7 711L583.2 711L584.6 711L586.1 711L587.6 711L589 711L590.5 711L592 711L593.4 711L594.9 711L596.3 711L597.8 711L599.3 711L600.7 711L602.2 711L603.6 711L605.1 711L606.6 711L608 711L609.5 711L611 711L612.4 711L613.9 711L615.3 711L616.8 711L618.3 711L619.7 711L621.2 711L622.7 711L624.1 711L625.6 711L627 711L628.5 711L630 711L631.4 711L632.9 711L634.3 711L635.8 711L637.3 711L638.7 711L640.2 711L641.7 711L643.1 711L644.6 711L646 711L647.5 711L649 711L650.4 711L651.9 711L653.3 711L654.8 711L656.3 711L657.7 711L659.2 711L660.7 711L662.1 711L663.6 711L665 711L666.5 711L668 711L669.4 711L670.9 711L672.4 711L673.8 711L675.3 711L676.7 711L678.2 711L679.7 711L681.1 711L682.6 711L684 711L685.5 711L687 711L688.4 711L689.9 711L691.4 711L692.8 711L694.3 711L695.7 711L697.2 711L698.7 711L700.1 711L701.6 711L703 711L704.5 711L706 711L707.4 711L708.9 711L710.4 711L711.8 711L713.3 711L714.7 711L716.2 711L717.7 711L719.1 711L720.6 711L722.1 711L723.5 711L725 711L726.4 711L727.9 711L729.4 711L730.8 711L732.3 711L733.7 711L735.2 711L736.7 711L738.1 711L739.6 711L741.1 711L742.5 711L744 711L745.4 711L746.9 711L748.4 711L749.8 711L751.3 711L752.7 711L754.2 711L755.7 711L757.1 711L758.6 711L760.1 711L761.5 711L763 711L764.4 711L765.9 711L767.4 711L768.8 711L770.3 711L771.8 711L773.2 711" stroke="#000" stroke-width="2.1" stroke-linejoin="round"/>
<path d="M190.5 856.7H333.4V810.7H337V893.9H341.1V856.3H344.7V867.1H348.7V844.5H352.5V854.8H356.5V876.2H360.5" stroke="#000" stroke-width="1.7"/>
<path d="M360.5 876.2V821H364.6V842.7H368.2V859.9H371.9V887H375.8V881.2H379.6V898.2H383.6V883.8H387.2V902.4H391.2V882.5H395V904.7H399V905.4H402.6V904.2H406.2V916.8H410.3V924.1H417.9V917.4H421.6V924.1H433.3V918.1H437.3V924.1H445V907.3H448.7V918.6H452.3V905.4H456.3V910.5H460V882.5H464V904.2H467.6V877.6H471.6V874.4H475.2V845.8H479.4V849.4H482.6V854.1H486.6V918.1H490.7V867.5H494.7V844.5H498.5V867.1H502.5V896.4H506.5V813.8H510.3V876.2H514.2V853.6H517.9V866.8H521.8V862.1H525.6V859.9H529.2" stroke="#0f6cf2" stroke-width="1.7"/>
<path d="M529.2 859.9V844.5H532.9V831.3H536.8V868.6H540.8V839.1H544.4V878.9H548.6V867.1H552.2V842.7H556.3V827.4H560.3V851.8H563.9V870.7H567.9V864.4H571.5V817.4H575.7V871.1H579.3V857.7H582.9V883.8H586.9V878H590.7V827.4H594.7V860.8H598.3V861.3H602.3V878H606V808.4H610V859H613.6V832.4H617.6V888.5H621.8V893.3H625.4V825.9H629V812H632.8V883.8H636.7V833.7H640.7V847.6H644.5V854.8H648.5V859.9H652.1V891.5H656.1V864.4H659.9V867.5H663.9V884.8H667.5V864.4H671.4V853H675.2V835H679.2V811.5H683.2V880.1H687V855.4H690.6V795.7H694.6V846.3H698.2V868H702.3V864.4H706V840.4H709.9V853.6H713.6V869.3H717.5V876.2H721.3V855.4H725.3V853.6H732.9V848.2H736.7V878H740.7V854.8H744.3V852.3H748.3V843.3H752V818H756V855.4H759.6V882.5H763.8V853H767.8V881.2H771.4V845.4H771.9" stroke="#000" stroke-width="1.7"/>
<path d="M189 923.2H287.3V856.7H333.4V890.6H337V902.9H341.1V897.5H344.7V898.2H348.7V894.2H352.5V897H356.5V900H360.5V892.4H364.6V894.2H368.2V897.9H371.9V901.1H375.8V899.7H379.6V904.7H383.6V902.4H387.2V906H391.2V901.5H395V907.3H399V907.8H402.6V906.9H406.2V910.5H410.3V914.1H417.9V910.5H421.6V913.2H429.7V914.1H433.3V912.7H437.3V916.3H445V908.7H448.7V913.2H452.3V907.3H456.3V908.7H460V901.5H464V906H467.6V900.6H471.6V898.8H475.2V893.3H479.4V894.6H486.6V911.4H490.7V898.2H494.7V894.2H498.5V897H502.5V903.3H506.5V891.5H510.3V900H514.2V897.9H517.9V899.7H521.8V898.2H536.8V901.8H540.8V896.4H544.4V901.5H548.6V898.2H552.2V896.4H556.3V895.1H560.3V898.2H563.9V901.1H567.9V899.7H571.5V894.2H575.7V900.6H579.3V898.8H582.9V903.6H586.9V902.4H590.7V895.1H594.7V899.7H598.3V900H602.3V902.4H606V893.9H610V899.3H613.6V895.7H617.6V904.2H621.8V904.2H625.4V893.9H629V892.1H632.8V901.5H636.7V894.6H640.7V897.9H652.1V904.2H656.1V898.8H659.9V900H663.9V902.9H667.5V899.3H671.4V897.9H675.2V895.1H679.2V892.8H683.2V902.4H687V898.2H690.6V892.4H694.6V897H698.2V900.6H702.3V898.8H706V894.2H709.9V897H713.6V899.3H717.5V900.6H721.3V897.5H725.3V896H732.9V893.9H736.7V899.7H740.7V896H744.3V895.1H748.3V893.9H752V891.5H756V897.5H759.6V903.3H763.8V898.2H767.8V902.9H771.4V897.9H771.9" stroke="#ff0000" stroke-width="1.5"/>
<path d="M190 857.1L191.4 857.1L192.9 857.1L194.4 857.1L195.8 857.1L197.3 857.1L198.7 857.1L200.2 857.1L201.7 857.1L203.1 857.1L204.6 857.1L206.1 857.1L207.5 857.1L209 857.1L210.4 857.1L211.9 857.1L213.4 857.1L214.8 857.1L216.3 857.1L217.7 857.1L219.2 857.1L220.7 857.1L222.1 857.1L223.6 857.1L225.1 857.1L226.5 857.1L228 857.1L229.4 857.1L230.9 857.1L232.4 857.1L233.8 857.1L235.3 857.1L236.8 857.1L238.2 857.1L239.7 857.1L241.1 857.1L242.6 857.1L244.1 857.1L245.5 857.1L247 857.1L248.4 857.1L249.9 857.1L251.4 857.1L252.8 857.1L254.3 857.1L255.8 857.1L257.2 857.1L258.7 857.1L260.1 857.1L261.6 857.1L263.1 857.1L264.5 857.1L266 857.1L267.4 857.1L268.9 857.1L270.4 857.1L271.8 857.1L273.3 857.1L274.8 857.1L276.2 857.1L277.7 857.1L279.1 857.1L280.6 857.1L282.1 857.2L283.5 857.2L285 857.2L286.4 857.2L287.9 857.2L289.4 857.2L290.8 857.2L292.3 857.2L293.8 857.3L295.2 857.3L296.7 857.3L298.1 857.3L299.6 857.4L301.1 857.4L302.5 857.4L304 857.4L305.5 857.5L306.9 857.5L308.4 857.5L309.8 857.5L311.3 857.6L312.8 857.6L314.2 857.6L315.7 857.6L317.1 857.6L318.6 857.6L320.1 857.6L321.5 857.6L323 857.6L324.5 857.6L325.9 857.6L327.4 857.6L328.8 857.6L330.3 857.5L331.8 857.5L333.2 857.5L334.7 857.4L336.1 857.4L337.6 857.4L339.1 857.4L340.5 857.3L342 857.3L343.5 857.3L344.9 857.3L346.4 857.2L347.8 857.2L349.3 857.2L350.8 857.2L352.2 857.2L353.7 857.2L355.2 857.2L356.6 857.2L358.1 857.1L359.5 857.1L361 857.1L362.5 857.1L363.9 857.1L365.4 857.1L366.8 857.1L368.3 857.1L369.8 857.1L371.2 857.1L372.7 857.1L374.2 857.1L375.6 857.1L377.1 857.1L378.5 857.1L380 857.1L381.5 857.1L382.9 857.1L384.4 857.1L385.8 857.1L387.3 857.1L388.8 857.1L390.2 857.1L391.7 857.1L393.2 857.1L394.6 857.1L396.1 857.1L397.5 857.1L399 857.1L400.5 857.1L401.9 857.1L403.4 857.1L404.9 857.1L406.3 857.1L407.8 857.1L409.2 857.1L410.7 857.1L412.2 857.1L413.6 857.1L415.1 857.1L416.5 857.1L418 857.1L419.5 857.1L420.9 857.1L422.4 857.1L423.9 857.1L425.3 857.1L426.8 857.1L428.2 857.1L429.7 857.1L431.2 857.1L432.6 857.1L434.1 857.1L435.5 857.1L437 857.1L438.5 857.1L439.9 857.1L441.4 857.1L442.9 857.1L444.3 857.1L445.8 857.1L447.2 857.1L448.7 857.1L450.2 857.1L451.6 857.1L453.1 857.1L454.6 857.1L456 857.1L457.5 857.1L458.9 857.1L460.4 857.1L461.9 857.1L463.3 857.1L464.8 857.1L466.2 857.1L467.7 857.1L469.2 857.1L470.6 857.1L472.1 857.1L473.6 857.1L475 857.1L476.5 857.1L477.9 857.1L479.4 857.1L480.9 857.1L482.3 857.1L483.8 857.1L485.2 857.1L486.7 857.1L488.2 857.1L489.6 857.1L491.1 857.1L492.6 857.1L494 857.1L495.5 857.1L496.9 857.1L498.4 857.1L499.9 857.1L501.3 857.1L502.8 857.1L504.3 857.1L505.7 857.1L507.2 857.1L508.6 857.1L510.1 857.1L511.6 857.1L513 857.1L514.5 857.1L515.9 857.1L517.4 857.1L518.9 857.1L520.3 857.1L521.8 857.1L523.3 857.1L524.7 857.1L526.2 857.1L527.6 857.1L529.1 857.1L530.6 857.1L532 857.1L533.5 857.1L534.9 857.1L536.4 857.1L537.9 857.1L539.3 857.1L540.8 857.1L542.3 857.1L543.7 857.1L545.2 857.1L546.6 857.1L548.1 857.1L549.6 857.1L551 857.1L552.5 857.1L554 857.1L555.4 857.1L556.9 857.1L558.3 857.1L559.8 857.1L561.3 857.1L562.7 857.1L564.2 857.1L565.6 857.1L567.1 857.1L568.6 857.1L570 857.1L571.5 857.1L573 857.1L574.4 857.1L575.9 857.1L577.3 857.1L578.8 857.1L580.3 857.1L581.7 857.1L583.2 857.1L584.6 857.1L586.1 857.1L587.6 857.1L589 857.1L590.5 857.1L592 857.1L593.4 857.1L594.9 857.1L596.3 857.1L597.8 857.1L599.3 857.1L600.7 857.1L602.2 857.1L603.6 857.1L605.1 857.1L606.6 857.1L608 857.1L609.5 857.1L611 857.1L612.4 857.1L613.9 857.1L615.3 857.1L616.8 857.1L618.3 857.1L619.7 857.1L621.2 857.1L622.7 857.1L624.1 857.1L625.6 857.1L627 857.1L628.5 857.1L630 857.1L631.4 857.1L632.9 857.1L634.3 857.1L635.8 857.1L637.3 857.1L638.7 857.1L640.2 857.1L641.7 857.1L643.1 857.1L644.6 857.1L646 857.1L647.5 857.1L649 857.1L650.4 857.1L651.9 857.1L653.3 857.1L654.8 857.1L656.3 857.1L657.7 857.1L659.2 857.1L660.7 857.1L662.1 857.1L663.6 857.1L665 857.1L666.5 857.1L668 857.1L669.4 857.1L670.9 857.1L672.4 857.1L673.8 857.1L675.3 857.1L676.7 857.1L678.2 857.1L679.7 857.1L681.1 857.1L682.6 857.1L684 857.1L685.5 857.1L687 857.1L688.4 857.1L689.9 857.1L691.4 857.1L692.8 857.1L694.3 857.1L695.7 857.1L697.2 857.1L698.7 857.1L700.1 857.1L701.6 857.1L703 857.1L704.5 857.1L706 857.1L707.4 857.1L708.9 857.1L710.4 857.1L711.8 857.1L713.3 857.1L714.7 857.1L716.2 857.1L717.7 857.1L719.1 857.1L720.6 857.1L722.1 857.1L723.5 857.1L725 857.1L726.4 857.1L727.9 857.1L729.4 857.1L730.8 857.1L732.3 857.1L733.7 857.1L735.2 857.1L736.7 857.1L738.1 857.1L739.6 857.1L741.1 857.1L742.5 857.1L744 857.1L745.4 857.1L746.9 857.1L748.4 857.1L749.8 857.1L751.3 857.1L752.7 857.1L754.2 857.1L755.7 857.1L757.1 857.1L758.6 857.1L760.1 857.1L761.5 857.1L763 857.1L764.4 857.1L765.9 857.1L767.4 857.1L768.8 857.1L770.3 857.1L771.8 857.1L773.2 857.1" stroke="#4e2350" stroke-width="1"/>
<path d="M190 857.1L191.4 857.1L192.9 857.1L194.4 857.1L195.8 857.1L197.3 857.1L198.7 857.1L200.2 857.1L201.7 857.1L203.1 857.1L204.6 857.1L206.1 857.1L207.5 857.1L209 857.1L210.4 857.1L211.9 857.1L213.4 857.1L214.8 857.1L216.3 857.1L217.7 857.1L219.2 857.1L220.7 857.1L222.1 857.1L223.6 857.1L225.1 857.1L226.5 857.1L228 857.1L229.4 857.1L230.9 857.1L232.4 857.1L233.8 857.1L235.3 857.1L236.8 857.1L238.2 857.1L239.7 857.1L241.1 857.1L242.6 857.1L244.1 857.1L245.5 857.1L247 857.1L248.4 857.1L249.9 857.1L251.4 857.1L252.8 857.1L254.3 857.1L255.8 857.1L257.2 857.1L258.7 857.1L260.1 857.1L261.6 857.1L263.1 857.1L264.5 857.1L266 857.1L267.4 857.1L268.9 857.1L270.4 857.1L271.8 857.1L273.3 857.1L274.8 857.1L276.2 857.1L277.7 857.1L279.1 857.1L280.6 857.1L282.1 857.1L283.5 857.1L285 857.1L286.4 857.1L287.9 857.1L289.4 857.1L290.8 857.1L292.3 857.1L293.8 857.1L295.2 857.1L296.7 857.1L298.1 857.1L299.6 857.1L301.1 857.1L302.5 857.1L304 857.1L305.5 857.1L306.9 857.1L308.4 857.1L309.8 857.1L311.3 857.1L312.8 857.1L314.2 857.1L315.7 857.1L317.1 857.1L318.6 857.1L320.1 857.1L321.5 857.1L323 857.1L324.5 857.1L325.9 857.1L327.4 857.1L328.8 857.1L330.3 857.1L331.8 857.1L333.2 857.1L334.7 857.1L336.1 857.2L337.6 857.2L339.1 857.2L340.5 857.2L342 857.2L343.5 857.3L344.9 857.3L346.4 857.4L347.8 857.5L349.3 857.6L350.8 857.8L352.2 858L353.7 858.2L355.2 858.5L356.6 858.9L358.1 859.4L359.5 859.9L361 860.6L362.5 861.4L363.9 862.3L365.4 863.4L366.8 864.7L368.3 866.2L369.8 867.9L371.2 869.8L372.7 871.9L374.2 874.2L375.6 876.7L377.1 879.3L378.5 882.2L380 885.1L381.5 888.2L382.9 891.3L384.4 894.4L385.8 897.5L387.3 900.5L388.8 903.4L390.2 906.1L391.7 908.6L393.2 910.9L394.6 913L396.1 914.9L397.5 916.5L399 917.9L400.5 919.1L401.9 920.1L403.4 920.9L404.9 921.6L406.3 922.1L407.8 922.5L409.2 922.8L410.7 923L412.2 923.2L413.6 923.3L415.1 923.4L416.5 923.4L418 923.5L419.5 923.5L420.9 923.5L422.4 923.5L423.9 923.6L425.3 923.6L426.8 923.6L428.2 923.6L429.7 923.6L431.2 923.6L432.6 923.6L434.1 923.6L435.5 923.6L437 923.6L438.5 923.5L439.9 923.5L441.4 923.5L442.9 923.5L444.3 923.5L445.8 923.4L447.2 923.3L448.7 923.2L450.2 923L451.6 922.8L453.1 922.5L454.6 922.2L456 921.7L457.5 921.1L458.9 920.3L460.4 919.3L461.9 918.2L463.3 916.8L464.8 915.2L466.2 913.4L467.7 911.4L469.2 909.1L470.6 906.6L472.1 903.9L473.6 901.1L475 898.1L476.5 895L477.9 891.9L479.4 888.8L480.9 885.7L482.3 882.8L483.8 879.9L485.2 877.2L486.7 874.6L488.2 872.3L489.6 870.2L491.1 868.2L492.6 866.5L494 865L495.5 863.7L496.9 862.5L498.4 861.6L499.9 860.7L501.3 860L502.8 859.5L504.3 859L505.7 858.6L507.2 858.3L508.6 858L510.1 857.8L511.6 857.7L513 857.5L514.5 857.4L515.9 857.4L517.4 857.3L518.9 857.3L520.3 857.2L521.8 857.2L523.3 857.2L524.7 857.2L526.2 857.2L527.6 857.1L529.1 857.1L530.6 857.1L532 857.1L533.5 857.1L534.9 857.1L536.4 857.1L537.9 857.1L539.3 857.1L540.8 857.1L542.3 857.1L543.7 857.1L545.2 857.1L546.6 857.1L548.1 857.1L549.6 857.1L551 857.1L552.5 857.1L554 857.1L555.4 857.1L556.9 857.1L558.3 857.1L559.8 857.1L561.3 857.1L562.7 857.1L564.2 857.1L565.6 857.1L567.1 857.1L568.6 857.1L570 857.1L571.5 857.1L573 857.1L574.4 857.1L575.9 857.1L577.3 857.1L578.8 857.1L580.3 857.1L581.7 857.1L583.2 857.1L584.6 857.1L586.1 857.1L587.6 857.1L589 857.1L590.5 857.1L592 857.1L593.4 857.1L594.9 857.1L596.3 857.1L597.8 857.1L599.3 857.1L600.7 857.1L602.2 857.1L603.6 857.1L605.1 857.1L606.6 857.1L608 857.1L609.5 857.1L611 857.1L612.4 857.1L613.9 857.1L615.3 857.1L616.8 857.1L618.3 857.1L619.7 857.1L621.2 857.1L622.7 857.1L624.1 857.1L625.6 857.1L627 857.1L628.5 857.1L630 857.1L631.4 857.1L632.9 857.1L634.3 857.1L635.8 857.1L637.3 857.1L638.7 857.1L640.2 857.1L641.7 857.1L643.1 857.1L644.6 857.1L646 857.1L647.5 857.1L649 857.1L650.4 857.1L651.9 857.1L653.3 857.1L654.8 857.1L656.3 857.1L657.7 857.1L659.2 857.1L660.7 857.1L662.1 857.1L663.6 857.1L665 857.1L666.5 857.1L668 857.1L669.4 857.1L670.9 857.1L672.4 857.1L673.8 857.1L675.3 857.1L676.7 857.1L678.2 857.1L679.7 857.1L681.1 857.1L682.6 857.1L684 857.1L685.5 857.1L687 857.1L688.4 857.1L689.9 857.1L691.4 857.1L692.8 857.1L694.3 857.1L695.7 857.1L697.2 857.1L698.7 857.1L700.1 857.1L701.6 857.1L703 857.1L704.5 857.1L706 857.1L707.4 857.1L708.9 857.1L710.4 857.1L711.8 857.1L713.3 857.1L714.7 857.1L716.2 857.1L717.7 857.1L719.1 857.1L720.6 857.1L722.1 857.1L723.5 857.1L725 857.1L726.4 857.1L727.9 857.1L729.4 857.1L730.8 857.1L732.3 857.1L733.7 857.1L735.2 857.1L736.7 857.1L738.1 857.1L739.6 857.1L741.1 857.1L742.5 857.1L744 857.1L745.4 857.1L746.9 857.1L748.4 857.1L749.8 857.1L751.3 857.1L752.7 857.1L754.2 857.1L755.7 857.1L757.1 857.1L758.6 857.1L760.1 857.1L761.5 857.1L763 857.1L764.4 857.1L765.9 857.1L767.4 857.1L768.8 857.1L770.3 857.1L771.8 857.1L773.2 857.1" stroke="#4e2350" stroke-width="1"/>
<path d="M190 857.1L191.4 857.1L192.9 857.1L194.4 857.1L195.8 857.1L197.3 857.1L198.7 857.1L200.2 857.1L201.7 857.1L203.1 857.1L204.6 857.1L206.1 857.1L207.5 857.1L209 857.1L210.4 857.1L211.9 857.1L213.4 857.1L214.8 857.1L216.3 857.1L217.7 857.1L219.2 857.1L220.7 857.1L222.1 857.1L223.6 857.1L225.1 857.1L226.5 857.1L228 857.1L229.4 857.1L230.9 857.1L232.4 857.1L233.8 857.1L235.3 857.1L236.8 857.1L238.2 857.1L239.7 857.1L241.1 857.1L242.6 857.1L244.1 857.1L245.5 857.1L247 857.1L248.4 857.1L249.9 857.1L251.4 857.1L252.8 857.1L254.3 857.1L255.8 857.1L257.2 857.1L258.7 857.1L260.1 857.1L261.6 857.1L263.1 857.1L264.5 857.1L266 857.1L267.4 857.1L268.9 857.1L270.4 857.1L271.8 857.1L273.3 857.1L274.8 857.1L276.2 857.1L277.7 857.1L279.1 857.1L280.6 857.1L282.1 857.2L283.5 857.2L285 857.2L286.4 857.2L287.9 857.2L289.4 857.2L290.8 857.2L292.3 857.2L293.8 857.3L295.2 857.3L296.7 857.3L298.1 857.3L299.6 857.4L301.1 857.4L302.5 857.4L304 857.4L305.5 857.5L306.9 857.5L308.4 857.5L309.8 857.5L311.3 857.6L312.8 857.6L314.2 857.6L315.7 857.6L317.1 857.6L318.6 857.6L320.1 857.6L321.5 857.6L323 857.6L324.5 857.6L325.9 857.6L327.4 857.6L328.8 857.6L330.3 857.5L331.8 857.5L333.2 857.5L334.7 857.5L336.1 857.5L337.6 857.4L339.1 857.4L340.5 857.4L342 857.4L343.5 857.5L344.9 857.5L346.4 857.5L347.8 857.6L349.3 857.7L350.8 857.9L352.2 858L353.7 858.3L355.2 858.6L356.6 858.9L358.1 859.4L359.5 859.9L361 860.6L362.5 861.4L363.9 862.3L365.4 863.4L366.8 864.7L368.3 866.2L369.8 867.9L371.2 869.8L372.7 871.9L374.2 874.2L375.6 876.7L377.1 879.3L378.5 882.2L380 885.1L381.5 888.2L382.9 891.3L384.4 894.4L385.8 897.5L387.3 900.5L388.8 903.4L390.2 906.1L391.7 908.6L393.2 910.9L394.6 913L396.1 914.9L397.5 916.5L399 917.9L400.5 919.1L401.9 920.1L403.4 920.9L404.9 921.6L406.3 922.1L407.8 922.5L409.2 922.8L410.7 923L412.2 923.2L413.6 923.3L415.1 923.4L416.5 923.4L418 923.5L419.5 923.5L420.9 923.5L422.4 923.5L423.9 923.6L425.3 923.6L426.8 923.6L428.2 923.6L429.7 923.6L431.2 923.6L432.6 923.6L434.1 923.6L435.5 923.6L437 923.6L438.5 923.5L439.9 923.5L441.4 923.5L442.9 923.5L444.3 923.5L445.8 923.4L447.2 923.3L448.7 923.2L450.2 923L451.6 922.8L453.1 922.5L454.6 922.2L456 921.7L457.5 921.1L458.9 920.3L460.4 919.3L461.9 918.2L463.3 916.8L464.8 915.2L466.2 913.4L467.7 911.4L469.2 909.1L470.6 906.6L472.1 903.9L473.6 901.1L475 898.1L476.5 895L477.9 891.9L479.4 888.8L480.9 885.7L482.3 882.8L483.8 879.9L485.2 877.2L486.7 874.6L488.2 872.3L489.6 870.2L491.1 868.2L492.6 866.5L494 865L495.5 863.7L496.9 862.5L498.4 861.6L499.9 860.7L501.3 860L502.8 859.5L504.3 859L505.7 858.6L507.2 858.3L508.6 858L510.1 857.8L511.6 857.7L513 857.5L514.5 857.4L515.9 857.4L517.4 857.3L518.9 857.3L520.3 857.2L521.8 857.2L523.3 857.2L524.7 857.2L526.2 857.2L527.6 857.1L529.1 857.1L530.6 857.1L532 857.1L533.5 857.1L534.9 857.1L536.4 857.1L537.9 857.1L539.3 857.1L540.8 857.1L542.3 857.1L543.7 857.1L545.2 857.1L546.6 857.1L548.1 857.1L549.6 857.1L551 857.1L552.5 857.1L554 857.1L555.4 857.1L556.9 857.1L558.3 857.1L559.8 857.1L561.3 857.1L562.7 857.1L564.2 857.1L565.6 857.1L567.1 857.1L568.6 857.1L570 857.1L571.5 857.1L573 857.1L574.4 857.1L575.9 857.1L577.3 857.1L578.8 857.1L580.3 857.1L581.7 857.1L583.2 857.1L584.6 857.1L586.1 857.1L587.6 857.1L589 857.1L590.5 857.1L592 857.1L593.4 857.1L594.9 857.1L596.3 857.1L597.8 857.1L599.3 857.1L600.7 857.1L602.2 857.1L603.6 857.1L605.1 857.1L606.6 857.1L608 857.1L609.5 857.1L611 857.1L612.4 857.1L613.9 857.1L615.3 857.1L616.8 857.1L618.3 857.1L619.7 857.1L621.2 857.1L622.7 857.1L624.1 857.1L625.6 857.1L627 857.1L628.5 857.1L630 857.1L631.4 857.1L632.9 857.1L634.3 857.1L635.8 857.1L637.3 857.1L638.7 857.1L640.2 857.1L641.7 857.1L643.1 857.1L644.6 857.1L646 857.1L647.5 857.1L649 857.1L650.4 857.1L651.9 857.1L653.3 857.1L654.8 857.1L656.3 857.1L657.7 857.1L659.2 857.1L660.7 857.1L662.1 857.1L663.6 857.1L665 857.1L666.5 857.1L668 857.1L669.4 857.1L670.9 857.1L672.4 857.1L673.8 857.1L675.3 857.1L676.7 857.1L678.2 857.1L679.7 857.1L681.1 857.1L682.6 857.1L684 857.1L685.5 857.1L687 857.1L688.4 857.1L689.9 857.1L691.4 857.1L692.8 857.1L694.3 857.1L695.7 857.1L697.2 857.1L698.7 857.1L700.1 857.1L701.6 857.1L703 857.1L704.5 857.1L706 857.1L707.4 857.1L708.9 857.1L710.4 857.1L711.8 857.1L713.3 857.1L714.7 857.1L716.2 857.1L717.7 857.1L719.1 857.1L720.6 857.1L722.1 857.1L723.5 857.1L725 857.1L726.4 857.1L727.9 857.1L729.4 857.1L730.8 857.1L732.3 857.1L733.7 857.1L735.2 857.1L736.7 857.1L738.1 857.1L739.6 857.1L741.1 857.1L742.5 857.1L744 857.1L745.4 857.1L746.9 857.1L748.4 857.1L749.8 857.1L751.3 857.1L752.7 857.1L754.2 857.1L755.7 857.1L757.1 857.1L758.6 857.1L760.1 857.1L761.5 857.1L763 857.1L764.4 857.1L765.9 857.1L767.4 857.1L768.8 857.1L770.3 857.1L771.8 857.1L773.2 857.1" stroke="#000" stroke-width="2.1" stroke-linejoin="round"/>
</g>
<path d="M257.2 239.5H271.6M264.4 232.3V246.7" stroke="#000" stroke-width="1.5" fill="none"/>
<path d="M544.6 239.5H559M551.8 232.3V246.7" stroke="#000" stroke-width="1.5" fill="none"/>
<path d="M306.3 385.7H320.7M313.5 378.5V392.9" stroke="#000" stroke-width="1.5" fill="none"/>
<path d="M545 385.7H559.4M552.2 378.5V392.9" stroke="#000" stroke-width="1.5" fill="none"/>
<path d="M330.3 531.9H344.7M337.5 524.7V539.1" stroke="#000" stroke-width="1.5" fill="none"/>
<path d="M544.6 531.9H559M551.8 524.7V539.1" stroke="#000" stroke-width="1.5" fill="none"/>
<path d="M352.9 678H367.3M360.1 670.8V685.2" stroke="#000" stroke-width="1.5" fill="none"/>
<path d="M546.3 678H560.7M553.5 670.8V685.2" stroke="#000" stroke-width="1.5" fill="none"/>
<path d="M354.7 824.2H369.1M361.9 817V831.4" stroke="#000" stroke-width="1.5" fill="none"/>
<path d="M519.7 824.2H534.1M526.9 817V831.4" stroke="#000" stroke-width="1.5" fill="none"/>
<g font-family="'Liberation Serif', serif" fill="#000" style="font-kerning:none">
<text transform="translate(188.6 80.3) scale(0.945 1)" font-size="29.3">J0950+4831 z<tspan font-size="18.5" dy="6.4">QSO</tspan><tspan dy="-6.4"> = 0.5890</tspan></text>
<text transform="translate(189.2 109.1) scale(0.945 1)" font-size="29.3" xml:space="preserve">177_27    z<tspan font-size="18.5" dy="6.4">sys</tspan><tspan dy="-6.4"> = 0.211936</tspan></text>
<text x="189.5" y="139.3" font-size="22" fill="#ff0000" xml:space="preserve">SFR &lt;   0.30  hbeta</text>
<text x="189.5" y="162" font-size="22" xml:space="preserve">u−r = 2.73   R =  93.11</text>
<text x="189.5" y="185.5" font-size="22" xml:space="preserve">logM*  =  11.02</text>
<path d="M514.6 77.8H555.9" stroke="#14f03c" stroke-width="3.2" fill="none"/>
<text x="564.8" y="82.2" font-size="19.1">Good</text>
<path d="M514.6 102.8H555.9" stroke="#ffb81e" stroke-width="3.2" fill="none"/>
<text x="564.8" y="107.2" font-size="19.1">Blend</text>
<path d="M647.6 77.8H688.9" stroke="#500a8c" stroke-width="3.2" fill="none"/>
<text x="697.8" y="82.2" font-size="19.1">Non−detection</text>
<path d="M647.6 102.8H688.9" stroke="#0f6cf2" stroke-width="3.2" fill="none"/>
<text x="697.8" y="107.2" font-size="19.1">Saturated</text>
<text x="182.4" y="218.8" font-size="22.3" text-anchor="end">2.0</text>
<text x="182.4" y="246.4" font-size="22.3" text-anchor="end">1.5</text>
<text x="182.4" y="279.6" font-size="22.3" text-anchor="end">1.0</text>
<text x="182.4" y="312.9" font-size="22.3" text-anchor="end">0.5</text>
<text x="182.4" y="346.1" font-size="22.3" text-anchor="end">0.0</text>
<text x="182.4" y="365" font-size="22.3" text-anchor="end">2.0</text>
<text x="182.4" y="392.6" font-size="22.3" text-anchor="end">1.5</text>
<text x="182.4" y="425.8" font-size="22.3" text-anchor="end">1.0</text>
<text x="182.4" y="459" font-size="22.3" text-anchor="end">0.5</text>
<text x="182.4" y="492.3" font-size="22.3" text-anchor="end">0.0</text>
<text x="182.4" y="511.1" font-size="22.3" text-anchor="end">2.0</text>
<text x="182.4" y="538.8" font-size="22.3" text-anchor="end">1.5</text>
<text x="182.4" y="572" font-size="22.3" text-anchor="end">1.0</text>
<text x="182.4" y="605.2" font-size="22.3" text-anchor="end">0.5</text>
<text x="182.4" y="638.4" font-size="22.3" text-anchor="end">0.0</text>
<text x="182.4" y="657.3" font-size="22.3" text-anchor="end">2.0</text>
<text x="182.4" y="684.9" font-size="22.3" text-anchor="end">1.5</text>
<text x="182.4" y="718.2" font-size="22.3" text-anchor="end">1.0</text>
<text x="182.4" y="751.4" font-size="22.3" text-anchor="end">0.5</text>
<text x="182.4" y="784.6" font-size="22.3" text-anchor="end">0.0</text>
<text x="182.4" y="803.5" font-size="22.3" text-anchor="end">2.0</text>
<text x="182.4" y="831.1" font-size="22.3" text-anchor="end">1.5</text>
<text x="182.4" y="864.3" font-size="22.3" text-anchor="end">1.0</text>
<text x="182.4" y="897.5" font-size="22.3" text-anchor="end">0.5</text>
<text x="182.4" y="930.8" font-size="22.3" text-anchor="end">0.0</text>
<text x="182.4" y="949.6" font-size="22.3" text-anchor="end">2.0</text>
<text x="182.4" y="977.3" font-size="22.3" text-anchor="end">1.5</text>
<text x="182.4" y="1010.5" font-size="22.3" text-anchor="end">1.0</text>
<text x="182.4" y="1043.7" font-size="22.3" text-anchor="end">0.5</text>
<text x="182.4" y="1076.9" font-size="22.3" text-anchor="end">0.0</text>
<text x="182.4" y="1095.8" font-size="22.3" text-anchor="end">2.0</text>
<text x="182.4" y="1123.4" font-size="22.3" text-anchor="end">1.5</text>
<text x="182.4" y="1156.7" font-size="22.3" text-anchor="end">1.0</text>
<text x="182.4" y="1189.9" font-size="22.3" text-anchor="end">0.5</text>
<text x="182.4" y="1223.1" font-size="22.3" text-anchor="end">0.0</text>
<text x="182.4" y="1242" font-size="22.3" text-anchor="end">2.0</text>
<text x="182.4" y="1269.6" font-size="22.3" text-anchor="end">1.5</text>
<text x="182.4" y="1302.8" font-size="22.3" text-anchor="end">1.0</text>
<text x="182.4" y="1336.1" font-size="22.3" text-anchor="end">0.5</text>
<text x="182.4" y="1369.3" font-size="22.3" text-anchor="end">0.0</text>
<text transform="translate(188.4 1410.5) scale(0.94 1)" font-size="29.4" text-anchor="middle">−600</text>
<text transform="translate(285.8 1410.5) scale(0.94 1)" font-size="29.4" text-anchor="middle">−400</text>
<text transform="translate(383.3 1410.5) scale(0.94 1)" font-size="29.4" text-anchor="middle">−200</text>
<text transform="translate(481.4 1410.5) scale(0.94 1)" font-size="29.4" text-anchor="middle">0</text>
<text transform="translate(578.8 1410.5) scale(0.94 1)" font-size="29.4" text-anchor="middle">200</text>
<text transform="translate(676.2 1410.5) scale(0.94 1)" font-size="29.4" text-anchor="middle">400</text>
<text transform="translate(773.7 1410.5) scale(0.94 1)" font-size="29.4" text-anchor="middle">600</text>
<text transform="translate(482 1440.4) scale(0.955 1)" font-size="29" text-anchor="middle">Velocity [km s<tspan font-size="18.6" dy="-11">−1</tspan><tspan dy="11">]</tspan></text>
<text x="203.5" y="232.9" font-size="22.2">HI 1215</text>
<text x="758.7" y="233" font-size="22" text-anchor="end">f = 0.416</text>
<text x="203.5" y="319" font-size="22.1">W<tspan font-size="14" dy="4.8">r</tspan><tspan dy="-4.8">= 1368+/−29</tspan></text>
<text x="203.5" y="379.1" font-size="22.2">HI 1025</text>
<text x="758.7" y="379.2" font-size="22" text-anchor="end">f = 0.079</text>
<text x="203.5" y="465.2" font-size="22.1">W<tspan font-size="14" dy="4.8">r</tspan><tspan dy="-4.8">= 949+/−21</tspan></text>
<text x="203.5" y="525.2" font-size="22.2">HI 972</text>
<text x="758.7" y="525.3" font-size="22" text-anchor="end">f = 0.029</text>
<text x="203.5" y="611.3" font-size="22.1">W<tspan font-size="14" dy="4.8">r</tspan><tspan dy="-4.8">= 787+/−24</tspan></text>
<text x="203.5" y="671.4" font-size="22.2">HI 949</text>
<text x="758.7" y="671.5" font-size="22" text-anchor="end">f = 0.014</text>
<text x="203.5" y="757.5" font-size="22.1">W<tspan font-size="14" dy="4.8">r</tspan><tspan dy="-4.8">= 650+/−42</tspan></text>
<text x="203.5" y="817.6" font-size="22.2">HI 937</text>
<text x="758.7" y="817.7" font-size="22" text-anchor="end">f = 0.008</text>
<text x="203.5" y="903.7" font-size="22.1">W<tspan font-size="14" dy="4.8">r</tspan><tspan dy="-4.8">= 461+/−50</tspan></text>
<text x="203.5" y="963.7" font-size="22.2">HI 930</text>
<text x="758.7" y="963.8" font-size="22" text-anchor="end">f = 0.005</text>
<text x="203.5" y="1109.9" font-size="22.2">HI 926</text>
<text x="758.7" y="1110" font-size="22" text-anchor="end">f = 0.003</text>
<text x="203.5" y="1256.1" font-size="22.2">HI 923</text>
<text x="758.7" y="1256.2" font-size="22" text-anchor="end">f = 0.002</text>
<text transform="translate(323.8 216.5) rotate(-90) scale(0.955 1)" font-size="11.2" text-anchor="end" word-spacing="0">13.50±0.07</text>
<text transform="translate(334 216.5) rotate(-90) scale(0.955 1)" font-size="11.2" text-anchor="end" word-spacing="0">38±9</text>
<text transform="translate(434 216.5) rotate(-90) scale(0.955 1)" font-size="11.2" text-anchor="end" word-spacing="0">16.88±0.13</text>
<text transform="translate(443.6 216.5) rotate(-90) scale(0.955 1)" font-size="11.2" text-anchor="end" word-spacing="0">56±2</text>
<text transform="translate(323.8 362.7) rotate(-90) scale(0.955 1)" font-size="11.2" text-anchor="end" word-spacing="0">13.50±0.07</text>
<text transform="translate(334 362.7) rotate(-90) scale(0.955 1)" font-size="11.2" text-anchor="end" word-spacing="0">38±9</text>
<text transform="translate(434 362.7) rotate(-90) scale(0.955 1)" font-size="11.2" text-anchor="end" word-spacing="0">16.88±0.13</text>
<text transform="translate(443.6 362.7) rotate(-90) scale(0.955 1)" font-size="11.2" text-anchor="end" word-spacing="0">56±2</text>
<text transform="translate(323.8 508.8) rotate(-90) scale(0.955 1)" font-size="11.2" text-anchor="end" word-spacing="0">13.50±0.07</text>
<text transform="translate(334 508.8) rotate(-90) scale(0.955 1)" font-size="11.2" text-anchor="end" word-spacing="0">38±9</text>
<text transform="translate(434 508.8) rotate(-90) scale(0.955 1)" font-size="11.2" text-anchor="end" word-spacing="0">16.88±0.13</text>
<text transform="translate(443.6 508.8) rotate(-90) scale(0.955 1)" font-size="11.2" text-anchor="end" word-spacing="0">56±2</text>
<text transform="translate(323.8 655) rotate(-90) scale(0.955 1)" font-size="11.2" text-anchor="end" word-spacing="0">13.50±0.07</text>
<text transform="translate(334 655) rotate(-90) scale(0.955 1)" font-size="11.2" text-anchor="end" word-spacing="0">38±9</text>
<text transform="translate(434 655) rotate(-90) scale(0.955 1)" font-size="11.2" text-anchor="end" word-spacing="0">16.88±0.13</text>
<text transform="translate(443.6 655) rotate(-90) scale(0.955 1)" font-size="11.2" text-anchor="end" word-spacing="0">56±2</text>
<text transform="translate(323.8 801.2) rotate(-90) scale(0.955 1)" font-size="11.2" text-anchor="end" word-spacing="0">13.50±0.07</text>
<text transform="translate(334 801.2) rotate(-90) scale(0.955 1)" font-size="11.2" text-anchor="end" word-spacing="0">38±9</text>
<text transform="translate(434 801.2) rotate(-90) scale(0.955 1)" font-size="11.2" text-anchor="end" word-spacing="0">16.88±0.13</text>
<text transform="translate(443.6 801.2) rotate(-90) scale(0.955 1)" font-size="11.2" text-anchor="end" word-spacing="0">56±2</text>
<text transform="translate(438.6 361.2) rotate(-90) scale(0.91 1)" font-size="12.2" text-anchor="end" word-spacing="0">NV 1242</text>
<text transform="translate(447.2 361.2) rotate(-90) scale(0.91 1)" font-size="12.2" text-anchor="end" word-spacing="0"><tspan font-style="italic">z</tspan> = −0.000</text>
<text transform="translate(596 361.2) rotate(-90) scale(0.91 1)" font-size="12.2" text-anchor="end" word-spacing="0">OIV 787</text>
<text transform="translate(605.2 361.2) rotate(-90) scale(0.91 1)" font-size="12.2" text-anchor="end" word-spacing="2"><tspan font-style="italic">z</tspan> = 0.579</text>
<text transform="translate(701.7 653.5) rotate(-90) scale(0.91 1)" font-size="12.2" text-anchor="end" word-spacing="0">PII 1152</text>
<text transform="translate(710.7 653.5) rotate(-90) scale(0.91 1)" font-size="12.2" text-anchor="end" word-spacing="0"><tspan font-style="italic">z</tspan> = −0.000</text>
</g>
</svg>
</body></html>
